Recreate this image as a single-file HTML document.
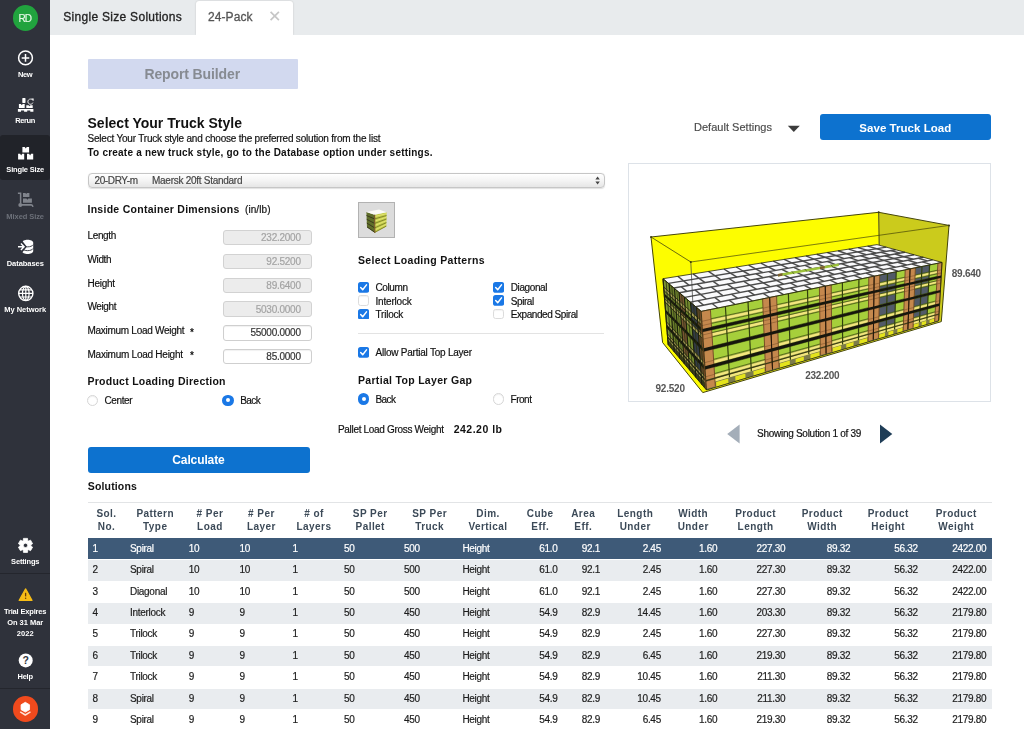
<!DOCTYPE html>
<html lang="en"><head><meta charset="utf-8"><title>Single Size Solutions - 24-Pack</title>
<style>
*{box-sizing:border-box;margin:0;padding:0}
html,body{width:1024px;height:729px;overflow:hidden;background:#fff}
body{font-family:"Liberation Sans",sans-serif;position:relative}
.a{position:absolute}
.t{position:absolute;white-space:pre}
</style></head><body>
<div class="a" style="left:0px;top:0px;width:50px;height:729px;background:#2f323b"></div>
<div class="a" style="left:0px;top:134.8px;width:50px;height:45.4px;background:#212329;border-radius:3px"></div>
<div class="a" style="left:0px;top:573px;width:50px;height:1px;background:#24262d"></div>
<div class="a" style="left:0px;top:688px;width:50px;height:1px;background:#24262d"></div>
<div class="a" style="left:12.6px;top:5.4px;width:25.4px;height:25.4px;background:#21a33e;border-radius:50%"></div>
<div class="a" style="left:12.5px;top:696px;width:25.6px;height:25.6px;background:#f04a1d;border-radius:50%"></div>
<div class="a" style="left:50px;top:0px;width:974px;height:34.6px;background:#e8ebed"></div>
<div class="a" style="left:195.8px;top:0.6px;width:97px;height:34.4px;background:#fff;border-radius:3px 3px 0 0;box-shadow:0 0 2px rgba(0,0,0,.18)"></div>
<div class="a" style="left:190px;top:34.6px;width:110px;height:4px;background:#fff"></div>
<div class="a" style="left:87.5px;top:59.4px;width:210.2px;height:29.6px;background:#d2d9ef;border-radius:1px"></div>
<div class="a" style="left:87.5px;top:172.6px;width:517px;height:15.6px;background:linear-gradient(#fff,#f4f4f4 50%,#e6e6e6);border:1px solid #c6c6c6;border-radius:4px;box-shadow:0 .5px 1px rgba(0,0,0,.12)"></div>
<div class="a" style="left:222.7px;top:230.1px;width:89.2px;height:15.3px;background:#ececec;border:1px solid #d2d2d2;border-radius:3px"></div>
<div class="a" style="left:222.7px;top:253.88px;width:89.2px;height:15.3px;background:#ececec;border:1px solid #d2d2d2;border-radius:3px"></div>
<div class="a" style="left:222.7px;top:277.65999999999997px;width:89.2px;height:15.3px;background:#ececec;border:1px solid #d2d2d2;border-radius:3px"></div>
<div class="a" style="left:222.7px;top:301.44px;width:89.2px;height:15.3px;background:#ececec;border:1px solid #d2d2d2;border-radius:3px"></div>
<div class="a" style="left:222.7px;top:325.22px;width:89.2px;height:15.3px;background:#fff;border:1px solid #cfcfcf;border-radius:3px;box-shadow:inset 0 1px 1px rgba(0,0,0,.06)"></div>
<div class="a" style="left:222.7px;top:349.0px;width:89.2px;height:15.3px;background:#fff;border:1px solid #cfcfcf;border-radius:3px;box-shadow:inset 0 1px 1px rgba(0,0,0,.06)"></div>
<div class="a" style="left:87.5px;top:446.5px;width:222.4px;height:26.6px;background:#0d72cf;border-radius:3px"></div>
<div class="a" style="left:820.3px;top:114.4px;width:171px;height:26px;background:#0d72cf;border-radius:3px"></div>
<div class="a" style="left:358px;top:202px;width:36.8px;height:36.2px;background:#dcdcdc;border:1px solid #b2b2b2"></div>
<div class="a" style="left:358px;top:333.2px;width:246px;height:1px;background:#e3e3e3"></div>
<div class="a" style="left:628.2px;top:163.2px;width:363px;height:239px;background:#fff;border:1px solid #dde2e8"></div>
<div class="a" style="left:87.5px;top:502px;width:904px;height:1px;background:#e2e4e6"></div>
<div class="a" style="left:87.5px;top:538.4px;width:904px;height:20.8px;background:#3e5a78"></div>
<div class="a" style="left:87.5px;top:560.38px;width:904px;height:20.6px;background:#e9ecef"></div>
<div class="a" style="left:87.5px;top:603.14px;width:904px;height:20.6px;background:#e9ecef"></div>
<div class="a" style="left:87.5px;top:645.9px;width:904px;height:20.6px;background:#e9ecef"></div>
<div class="a" style="left:87.5px;top:688.66px;width:904px;height:20.6px;background:#e9ecef"></div>
<svg class="a" style="left:358px;top:281.9px" width="11.2" height="10.8" viewBox="0 0 11.2 10.8"><rect width="11.2" height="10.8" rx="2.6" fill="#1a78e6"/><path d="M2.7 5.6 L4.7 7.7 L8.5 2.9" fill="none" stroke="#fff" stroke-width="1.5" stroke-linecap="round" stroke-linejoin="round"/></svg>
<svg class="a" style="left:493.2px;top:281.9px" width="11.2" height="10.8" viewBox="0 0 11.2 10.8"><rect width="11.2" height="10.8" rx="2.6" fill="#1a78e6"/><path d="M2.7 5.6 L4.7 7.7 L8.5 2.9" fill="none" stroke="#fff" stroke-width="1.5" stroke-linecap="round" stroke-linejoin="round"/></svg>
<div class="a" style="left:358px;top:295.25px;width:11.2px;height:10.8px;border-radius:2.6px;background:#fff;border:1px solid #dcdcdc;box-shadow:inset 0 1px 1px rgba(0,0,0,.05)"></div>
<svg class="a" style="left:493.2px;top:295.25px" width="11.2" height="10.8" viewBox="0 0 11.2 10.8"><rect width="11.2" height="10.8" rx="2.6" fill="#1a78e6"/><path d="M2.7 5.6 L4.7 7.7 L8.5 2.9" fill="none" stroke="#fff" stroke-width="1.5" stroke-linecap="round" stroke-linejoin="round"/></svg>
<svg class="a" style="left:358px;top:308.6px" width="11.2" height="10.8" viewBox="0 0 11.2 10.8"><rect width="11.2" height="10.8" rx="2.6" fill="#1a78e6"/><path d="M2.7 5.6 L4.7 7.7 L8.5 2.9" fill="none" stroke="#fff" stroke-width="1.5" stroke-linecap="round" stroke-linejoin="round"/></svg>
<div class="a" style="left:493.2px;top:308.6px;width:11.2px;height:10.8px;border-radius:2.6px;background:#fff;border:1px solid #dcdcdc;box-shadow:inset 0 1px 1px rgba(0,0,0,.05)"></div>
<svg class="a" style="left:358px;top:347.2px" width="11.2" height="10.8" viewBox="0 0 11.2 10.8"><rect width="11.2" height="10.8" rx="2.6" fill="#1a78e6"/><path d="M2.7 5.6 L4.7 7.7 L8.5 2.9" fill="none" stroke="#fff" stroke-width="1.5" stroke-linecap="round" stroke-linejoin="round"/></svg>
<div class="a" style="left:86.8px;top:394.6px;width:11.4px;height:11.4px;border-radius:50%;background:#fff;border:1px solid #d6d6d6;box-shadow:inset 0 1px 1px rgba(0,0,0,.06)"></div>
<div class="a" style="left:222.3px;top:394.6px;width:11.4px;height:11.4px;border-radius:50%;background:#1a78e6"><div class="a" style="left:3.7px;top:3.7px;width:4px;height:4px;border-radius:50%;background:#fff"></div></div>
<div class="a" style="left:358px;top:393.3px;width:11.4px;height:11.4px;border-radius:50%;background:#1a78e6"><div class="a" style="left:3.7px;top:3.7px;width:4px;height:4px;border-radius:50%;background:#fff"></div></div>
<div class="a" style="left:492.5px;top:393.3px;width:11.4px;height:11.4px;border-radius:50%;background:#fff;border:1px solid #d6d6d6;box-shadow:inset 0 1px 1px rgba(0,0,0,.06)"></div>
<svg class="a" style="left:0;top:0" width="50" height="729" viewBox="0 0 50 729"><circle cx="25.5" cy="57.9" r="6.9" fill="none" stroke="#fff" stroke-width="1.5"/><path d="M25.5 54.1V61.7M21.7 57.9H29.3" stroke="#fff" stroke-width="1.5" fill="none"/><rect x="22.3" y="98.1" width="3.2" height="4.8" rx="0.6" fill="#fff"/><path d="M18.9 103.9H20.9L21.8 105.3L22.7 103.9H24.7V108.1H18.9Z" fill="#fff"/><path d="M26.3 105.2H28.6L29.5 106.2L30.4 105.2H32.7V108.1H26.3Z" fill="#fff"/><path d="M17.9 109H33.4V111.7H30.3V110.6H27.2V111.7H24.1V110.6H21V111.7H17.9Z" fill="#fff"/><path d="M32.6 100.2A2.6 2.6 0 1 0 32.9 102.6" fill="none" stroke="#e8e8e8" stroke-width="1.0"/><path d="M31.2 98.6H33.6V101Z" fill="#fff"/><path d="M22.4 146.9H24.75L25.75 148.50L26.75 146.9H29.099999999999998V152.6H22.4Z" fill="#fff"/><path d="M18.1 153.8H20.15L21.15 155.40L22.15 153.8H24.200000000000003V159.4H18.1Z" fill="#fff"/><path d="M27.0 153.8H29.10L30.10 155.40L31.10 153.8H33.2V159.4H27.0Z" fill="#fff"/><path d="M17.9 193.2H20.6V203.6" fill="none" stroke="#80848c" stroke-width="1.5"/><circle cx="20.3" cy="205" r="2.0" fill="#80848c"/><path d="M21.5 204.9H31.2Q32.6 204.9 32.9 206.8" fill="none" stroke="#80848c" stroke-width="1.6"/><path d="M23 192.9H25.4L26.2 194.1L27 192.9H29.4V196.9H23Z" fill="#80848c"/><path d="M23 198.5H26.4L27.4 199.8L28.4 198.5H31.9V202.8H23Z" fill="#80848c"/><path d="M22 242.8C22 238.8 33.2 238.8 33.2 242.8V250.9C33.2 254.9 22 254.9 22 250.9Z" fill="#fff"/><path d="M22 244.6C23.5 247.6 31.7 247.6 33.2 244.6" fill="none" stroke="#2f323b" stroke-width="0.9"/><path d="M22 248.4C23.5 251.4 31.7 251.4 33.2 248.4" fill="none" stroke="#2f323b" stroke-width="0.9"/><path d="M21.2 241.6L25.2 246.7L21.2 251.8" fill="none" stroke="#2f323b" stroke-width="2.6"/><path d="M18 246.7H23.6M20.9 243.4L24.1 246.7L20.9 250" fill="none" stroke="#fff" stroke-width="1.4"/><circle cx="25.8" cy="293.4" r="7.1" fill="none" stroke="#fff" stroke-width="1.4"/><ellipse cx="25.8" cy="293.4" rx="3.3" ry="7.1" fill="none" stroke="#fff" stroke-width="1.2"/><path d="M25.8 286.29999999999995V300.5M18.700000000000003 293.4H32.9M19.6 289.79999999999995H32.0M19.6 297.0H32.0" stroke="#fff" stroke-width="1.2" fill="none"/><path d="M23.46 538.39L27.54 538.39L27.70 540.47L28.67 541.03L30.55 540.13L32.59 543.66L30.87 544.84L30.87 545.96L32.59 547.14L30.55 550.67L28.67 549.77L27.70 550.33L27.54 552.41L23.46 552.41L23.30 550.33L22.33 549.77L20.45 550.67L18.41 547.14L20.13 545.96L20.13 544.84L18.41 543.66L20.45 540.13L22.33 541.03L23.30 540.47ZM27.7 545.4A2.2 2.2 0 1 0 23.3 545.4A2.2 2.2 0 1 0 27.7 545.4Z" fill="#fff" fill-rule="evenodd" stroke="#fff" stroke-width="0.8" stroke-linejoin="round"/><path d="M25.6 588.9L32 600.4H19.2Z" fill="#f7bd16" stroke="#f7bd16" stroke-width="1.2" stroke-linejoin="round"/><path d="M25.6 592.8V596.4" stroke="#6b3d08" stroke-width="1.3"/><circle cx="25.6" cy="598.3" r="0.75" fill="#6b3d08"/><circle cx="25.7" cy="660.4" r="7" fill="#fff"/><text x="25.7" y="664.2" text-anchor="middle" font-family="Liberation Sans,sans-serif" font-weight="bold" font-size="10.5" fill="#33363e">?</text><polygon points="25.30,702.30 29.54,704.75 29.54,709.65 25.30,712.10 21.06,709.65 21.06,704.75" fill="#fff" stroke="#fff" stroke-width="0.8" stroke-linejoin="round"/><path d="M20.6 712.2L25.3 715L30 712.2" fill="none" stroke="#ffe3d6" stroke-width="1.5" stroke-linecap="round" stroke-linejoin="round"/></svg>
<svg class="a" style="left:0;top:0" width="1024" height="460" viewBox="0 0 1024 460"><defs><filter id="b2"><feGaussianBlur stdDeviation="0.35"/></filter></defs><path d="M270.6 11.8L278.9 20.1M278.9 11.8L270.6 20.1" stroke="#c6c6c6" stroke-width="1.7" fill="none"/><path d="M787.8 125.7H799.8L793.8 132Z" fill="#3c3c3c"/><path d="M595.4 179.4L597.6 176.6L599.8 179.4ZM595.4 181.6L597.6 184.4L599.8 181.6Z" fill="#444"/><path d="M739.6 424.4V443.6L727.2 434Z" fill="#a4aeb9"/><path d="M880 424.4V443.6L892.3 434Z" fill="#1f3d57"/><g filter="url(#b2)"><polygon points="366.4,212.0 374.5,214.8 374.8,232.7 367.0,227.2" fill="#5f6e2c"/><polygon points="374.5,214.8 386.6,212.2 386.3,226.4 374.8,232.7" fill="#c3d048"/><polygon points="366.4,212.0 379.0,209.4 386.6,212.2 374.5,214.8" fill="#fbfbf6"/><line x1="374.6" y1="218.9" x2="386.5" y2="215.5" stroke="#7d7d2a" stroke-width="0.9"/><line x1="366.5" y1="215.5" x2="374.6" y2="218.9" stroke="#3a3a1c" stroke-width="1.0"/><line x1="374.6" y1="223.4" x2="386.5" y2="219.0" stroke="#7d7d2a" stroke-width="0.9"/><line x1="366.7" y1="219.3" x2="374.6" y2="223.4" stroke="#3a3a1c" stroke-width="1.0"/><line x1="374.7" y1="227.9" x2="386.4" y2="222.6" stroke="#7d7d2a" stroke-width="0.9"/><line x1="366.8" y1="223.1" x2="374.7" y2="227.9" stroke="#3a3a1c" stroke-width="1.0"/><line x1="374.8" y1="232.3" x2="386.3" y2="226.1" stroke="#7d7d2a" stroke-width="0.9"/><line x1="367.0" y1="226.9" x2="374.8" y2="232.3" stroke="#3a3a1c" stroke-width="1.0"/><line x1="374.5" y1="216.6" x2="386.6" y2="213.6" stroke="#e6e27a" stroke-width="0.9"/><line x1="374.6" y1="221.1" x2="386.5" y2="217.2" stroke="#e6e27a" stroke-width="0.9"/><line x1="374.7" y1="225.5" x2="386.4" y2="220.7" stroke="#e6e27a" stroke-width="0.9"/><line x1="374.8" y1="230.0" x2="386.3" y2="224.3" stroke="#e6e27a" stroke-width="0.9"/><line x1="374.6" y1="214.8" x2="374.8" y2="232.7" stroke="#7a5a2a" stroke-width="1.2"/></g></svg>
<svg class="a" style="left:629px;top:164px" width="362" height="237" viewBox="629 164 362 237"><defs><filter id="bl" x="-5%" y="-5%" width="110%" height="110%"><feGaussianBlur stdDeviation="0.45"/></filter></defs><g filter="url(#bl)"><polygon points="651.0,237.0 878.7,212.3 880.0,303.0 662.6,342.5" fill="#fdfd05"/><polygon points="878.7,212.3 949.0,225.4 941.3,321.6 880.0,303.0" fill="#cbcb1a"/><polygon points="662.6,342.5 702.8,392.6 941.3,321.6 880.0,303.0" fill="#f6f608"/><polygon points="651.0,237.0 690.8,262.0 702.8,392.6 662.6,342.5" fill="#fdfd05"/><line x1="651.0" y1="237.0" x2="878.7" y2="212.3" stroke="#45450a" stroke-width="1.0"/><line x1="878.7" y1="212.3" x2="949.0" y2="225.4" stroke="#45450a" stroke-width="1.0"/><line x1="651.0" y1="237.0" x2="662.6" y2="342.5" stroke="#45450a" stroke-width="1.0"/><line x1="662.6" y1="342.5" x2="702.8" y2="392.6" stroke="#45450a" stroke-width="1.0"/><line x1="878.7" y1="212.3" x2="880.0" y2="303.0" stroke="#45450a" stroke-width="1.0"/><line x1="949.0" y1="225.4" x2="941.3" y2="321.6" stroke="#45450a" stroke-width="1.0"/><line x1="702.8" y1="392.6" x2="941.3" y2="321.6" stroke="#45450a" stroke-width="1.0"/><polygon points="663.0,278.7 877.0,244.6 942.0,262.4 701.2,311.4" fill="#fafafc"/><line x1="668.5" y1="283.4" x2="886.3" y2="247.1" stroke="#4c4c4c" stroke-width="1.45"/><line x1="673.9" y1="288.0" x2="895.6" y2="249.7" stroke="#4c4c4c" stroke-width="1.45"/><line x1="679.4" y1="292.7" x2="904.9" y2="252.2" stroke="#4c4c4c" stroke-width="1.45"/><line x1="684.8" y1="297.4" x2="914.1" y2="254.8" stroke="#4c4c4c" stroke-width="1.45"/><line x1="690.3" y1="302.1" x2="923.4" y2="257.3" stroke="#4c4c4c" stroke-width="1.45"/><line x1="695.7" y1="306.7" x2="932.7" y2="259.9" stroke="#4c4c4c" stroke-width="1.45"/><line x1="677.8" y1="276.3" x2="683.5" y2="280.9" stroke="#4c4c4c" stroke-width="1.45"/><line x1="693.1" y1="273.9" x2="699.1" y2="278.3" stroke="#4c4c4c" stroke-width="1.45"/><line x1="708.5" y1="271.4" x2="714.8" y2="275.7" stroke="#4c4c4c" stroke-width="1.45"/><line x1="683.5" y1="280.9" x2="689.2" y2="285.4" stroke="#4c4c4c" stroke-width="1.45"/><line x1="699.1" y1="278.3" x2="705.1" y2="282.6" stroke="#4c4c4c" stroke-width="1.45"/><line x1="714.8" y1="275.7" x2="721.0" y2="279.9" stroke="#4c4c4c" stroke-width="1.45"/><line x1="681.2" y1="286.8" x2="686.8" y2="291.4" stroke="#4c4c4c" stroke-width="1.45"/><line x1="697.2" y1="284.0" x2="703.0" y2="288.5" stroke="#4c4c4c" stroke-width="1.45"/><line x1="713.1" y1="281.3" x2="719.2" y2="285.6" stroke="#4c4c4c" stroke-width="1.45"/><line x1="729.0" y1="278.5" x2="735.4" y2="282.7" stroke="#4c4c4c" stroke-width="1.45"/><line x1="694.9" y1="289.9" x2="700.6" y2="294.4" stroke="#4c4c4c" stroke-width="1.45"/><line x1="711.1" y1="287.0" x2="717.1" y2="291.4" stroke="#4c4c4c" stroke-width="1.45"/><line x1="727.3" y1="284.1" x2="733.6" y2="288.3" stroke="#4c4c4c" stroke-width="1.45"/><line x1="700.6" y1="294.4" x2="706.4" y2="299.0" stroke="#4c4c4c" stroke-width="1.45"/><line x1="717.1" y1="291.4" x2="723.1" y2="295.8" stroke="#4c4c4c" stroke-width="1.45"/><line x1="733.6" y1="288.3" x2="739.9" y2="292.5" stroke="#4c4c4c" stroke-width="1.45"/><line x1="698.0" y1="300.6" x2="703.6" y2="305.2" stroke="#4c4c4c" stroke-width="1.45"/><line x1="714.7" y1="297.4" x2="720.6" y2="301.8" stroke="#4c4c4c" stroke-width="1.45"/><line x1="731.5" y1="294.2" x2="737.6" y2="298.4" stroke="#4c4c4c" stroke-width="1.45"/><line x1="748.2" y1="290.9" x2="754.6" y2="295.1" stroke="#4c4c4c" stroke-width="1.45"/><line x1="712.1" y1="303.5" x2="717.8" y2="308.0" stroke="#4c4c4c" stroke-width="1.45"/><line x1="729.1" y1="300.1" x2="735.1" y2="304.5" stroke="#4c4c4c" stroke-width="1.45"/><line x1="746.1" y1="296.8" x2="752.4" y2="301.0" stroke="#4c4c4c" stroke-width="1.45"/><line x1="723.9" y1="269.0" x2="730.4" y2="273.1" stroke="#4c4c4c" stroke-width="1.45"/><line x1="736.2" y1="267.0" x2="743.0" y2="271.0" stroke="#4c4c4c" stroke-width="1.45"/><line x1="748.6" y1="265.1" x2="755.6" y2="268.9" stroke="#4c4c4c" stroke-width="1.45"/><line x1="760.9" y1="263.1" x2="768.1" y2="266.8" stroke="#4c4c4c" stroke-width="1.45"/><line x1="730.4" y1="273.1" x2="737.0" y2="277.1" stroke="#4c4c4c" stroke-width="1.45"/><line x1="743.0" y1="271.0" x2="749.8" y2="274.9" stroke="#4c4c4c" stroke-width="1.45"/><line x1="755.6" y1="268.9" x2="762.6" y2="272.7" stroke="#4c4c4c" stroke-width="1.45"/><line x1="768.1" y1="266.8" x2="775.4" y2="270.5" stroke="#4c4c4c" stroke-width="1.45"/><line x1="743.4" y1="276.0" x2="750.0" y2="280.0" stroke="#4c4c4c" stroke-width="1.45"/><line x1="756.2" y1="273.8" x2="763.0" y2="277.7" stroke="#4c4c4c" stroke-width="1.45"/><line x1="769.0" y1="271.6" x2="776.1" y2="275.4" stroke="#4c4c4c" stroke-width="1.45"/><line x1="781.8" y1="269.4" x2="789.1" y2="273.0" stroke="#4c4c4c" stroke-width="1.45"/><line x1="743.5" y1="281.2" x2="750.1" y2="285.3" stroke="#4c4c4c" stroke-width="1.45"/><line x1="756.5" y1="278.9" x2="763.3" y2="282.8" stroke="#4c4c4c" stroke-width="1.45"/><line x1="769.5" y1="276.5" x2="776.5" y2="280.3" stroke="#4c4c4c" stroke-width="1.45"/><line x1="782.6" y1="274.2" x2="789.8" y2="277.9" stroke="#4c4c4c" stroke-width="1.45"/><line x1="750.1" y1="285.3" x2="756.6" y2="289.3" stroke="#4c4c4c" stroke-width="1.45"/><line x1="763.3" y1="282.8" x2="770.1" y2="286.7" stroke="#4c4c4c" stroke-width="1.45"/><line x1="776.5" y1="280.3" x2="783.5" y2="284.2" stroke="#4c4c4c" stroke-width="1.45"/><line x1="789.8" y1="277.9" x2="797.0" y2="281.6" stroke="#4c4c4c" stroke-width="1.45"/><line x1="763.3" y1="288.0" x2="770.0" y2="292.0" stroke="#4c4c4c" stroke-width="1.45"/><line x1="776.8" y1="285.5" x2="783.7" y2="289.3" stroke="#4c4c4c" stroke-width="1.45"/><line x1="790.3" y1="282.9" x2="797.4" y2="286.6" stroke="#4c4c4c" stroke-width="1.45"/><line x1="803.7" y1="280.3" x2="811.0" y2="283.9" stroke="#4c4c4c" stroke-width="1.45"/><line x1="763.2" y1="293.4" x2="769.7" y2="297.5" stroke="#4c4c4c" stroke-width="1.45"/><line x1="776.8" y1="290.7" x2="783.6" y2="294.6" stroke="#4c4c4c" stroke-width="1.45"/><line x1="790.5" y1="288.0" x2="797.5" y2="291.8" stroke="#4c4c4c" stroke-width="1.45"/><line x1="804.2" y1="285.3" x2="811.4" y2="289.0" stroke="#4c4c4c" stroke-width="1.45"/><line x1="773.3" y1="261.1" x2="780.7" y2="264.7" stroke="#4c4c4c" stroke-width="1.45"/><line x1="784.2" y1="259.4" x2="791.8" y2="262.9" stroke="#4c4c4c" stroke-width="1.45"/><line x1="795.0" y1="257.7" x2="802.8" y2="261.0" stroke="#4c4c4c" stroke-width="1.45"/><line x1="805.9" y1="255.9" x2="813.9" y2="259.2" stroke="#4c4c4c" stroke-width="1.45"/><line x1="780.7" y1="264.7" x2="788.1" y2="268.3" stroke="#4c4c4c" stroke-width="1.45"/><line x1="791.8" y1="262.9" x2="799.4" y2="266.3" stroke="#4c4c4c" stroke-width="1.45"/><line x1="802.8" y1="261.0" x2="810.7" y2="264.4" stroke="#4c4c4c" stroke-width="1.45"/><line x1="813.9" y1="259.2" x2="821.9" y2="262.4" stroke="#4c4c4c" stroke-width="1.45"/><line x1="793.8" y1="267.3" x2="801.3" y2="270.8" stroke="#4c4c4c" stroke-width="1.45"/><line x1="805.0" y1="265.4" x2="812.8" y2="268.8" stroke="#4c4c4c" stroke-width="1.45"/><line x1="816.3" y1="263.4" x2="824.2" y2="266.7" stroke="#4c4c4c" stroke-width="1.45"/><line x1="827.5" y1="261.5" x2="835.6" y2="264.7" stroke="#4c4c4c" stroke-width="1.45"/><line x1="795.6" y1="271.8" x2="803.0" y2="275.4" stroke="#4c4c4c" stroke-width="1.45"/><line x1="807.0" y1="269.8" x2="814.7" y2="273.3" stroke="#4c4c4c" stroke-width="1.45"/><line x1="818.5" y1="267.7" x2="826.3" y2="271.1" stroke="#4c4c4c" stroke-width="1.45"/><line x1="829.9" y1="265.7" x2="837.9" y2="268.9" stroke="#4c4c4c" stroke-width="1.45"/><line x1="803.0" y1="275.4" x2="810.4" y2="279.0" stroke="#4c4c4c" stroke-width="1.45"/><line x1="814.7" y1="273.3" x2="822.3" y2="276.7" stroke="#4c4c4c" stroke-width="1.45"/><line x1="826.3" y1="271.1" x2="834.1" y2="274.5" stroke="#4c4c4c" stroke-width="1.45"/><line x1="837.9" y1="268.9" x2="845.9" y2="272.2" stroke="#4c4c4c" stroke-width="1.45"/><line x1="816.4" y1="277.9" x2="823.9" y2="281.4" stroke="#4c4c4c" stroke-width="1.45"/><line x1="828.2" y1="275.6" x2="835.9" y2="279.0" stroke="#4c4c4c" stroke-width="1.45"/><line x1="840.0" y1="273.3" x2="847.9" y2="276.6" stroke="#4c4c4c" stroke-width="1.45"/><line x1="851.9" y1="271.0" x2="860.0" y2="274.2" stroke="#4c4c4c" stroke-width="1.45"/><line x1="817.9" y1="282.6" x2="825.3" y2="286.1" stroke="#4c4c4c" stroke-width="1.45"/><line x1="829.9" y1="280.2" x2="837.5" y2="283.7" stroke="#4c4c4c" stroke-width="1.45"/><line x1="841.9" y1="277.8" x2="849.8" y2="281.2" stroke="#4c4c4c" stroke-width="1.45"/><line x1="854.0" y1="275.4" x2="862.0" y2="278.7" stroke="#4c4c4c" stroke-width="1.45"/><line x1="816.7" y1="254.2" x2="825.0" y2="257.3" stroke="#4c4c4c" stroke-width="1.45"/><line x1="827.4" y1="252.5" x2="835.8" y2="255.5" stroke="#4c4c4c" stroke-width="1.45"/><line x1="838.0" y1="250.8" x2="846.6" y2="253.7" stroke="#4c4c4c" stroke-width="1.45"/><line x1="825.0" y1="257.3" x2="833.2" y2="260.5" stroke="#4c4c4c" stroke-width="1.45"/><line x1="835.8" y1="255.5" x2="844.2" y2="258.6" stroke="#4c4c4c" stroke-width="1.45"/><line x1="846.6" y1="253.7" x2="855.2" y2="256.7" stroke="#4c4c4c" stroke-width="1.45"/><line x1="838.7" y1="259.5" x2="847.0" y2="262.6" stroke="#4c4c4c" stroke-width="1.45"/><line x1="849.7" y1="257.6" x2="858.2" y2="260.6" stroke="#4c4c4c" stroke-width="1.45"/><line x1="860.7" y1="255.7" x2="869.4" y2="258.6" stroke="#4c4c4c" stroke-width="1.45"/><line x1="841.4" y1="263.6" x2="849.6" y2="266.8" stroke="#4c4c4c" stroke-width="1.45"/><line x1="852.6" y1="261.6" x2="861.0" y2="264.7" stroke="#4c4c4c" stroke-width="1.45"/><line x1="863.8" y1="259.6" x2="872.4" y2="262.5" stroke="#4c4c4c" stroke-width="1.45"/><line x1="849.6" y1="266.8" x2="857.8" y2="269.9" stroke="#4c4c4c" stroke-width="1.45"/><line x1="861.0" y1="264.7" x2="869.4" y2="267.7" stroke="#4c4c4c" stroke-width="1.45"/><line x1="872.4" y1="262.5" x2="881.0" y2="265.5" stroke="#4c4c4c" stroke-width="1.45"/><line x1="863.6" y1="268.8" x2="871.9" y2="271.9" stroke="#4c4c4c" stroke-width="1.45"/><line x1="875.2" y1="266.6" x2="883.7" y2="269.6" stroke="#4c4c4c" stroke-width="1.45"/><line x1="886.7" y1="264.4" x2="895.4" y2="267.2" stroke="#4c4c4c" stroke-width="1.45"/><line x1="866.0" y1="273.1" x2="874.2" y2="276.2" stroke="#4c4c4c" stroke-width="1.45"/><line x1="877.8" y1="270.7" x2="886.2" y2="273.8" stroke="#4c4c4c" stroke-width="1.45"/><line x1="889.5" y1="268.4" x2="898.1" y2="271.3" stroke="#4c4c4c" stroke-width="1.45"/><line x1="848.7" y1="249.1" x2="857.4" y2="251.9" stroke="#4c4c4c" stroke-width="1.45"/><line x1="858.1" y1="247.6" x2="867.0" y2="250.3" stroke="#4c4c4c" stroke-width="1.45"/><line x1="867.6" y1="246.1" x2="876.7" y2="248.7" stroke="#4c4c4c" stroke-width="1.45"/><line x1="857.4" y1="251.9" x2="866.2" y2="254.8" stroke="#4c4c4c" stroke-width="1.45"/><line x1="867.0" y1="250.3" x2="876.0" y2="253.1" stroke="#4c4c4c" stroke-width="1.45"/><line x1="876.7" y1="248.7" x2="885.8" y2="251.4" stroke="#4c4c4c" stroke-width="1.45"/><line x1="871.1" y1="253.9" x2="880.0" y2="256.7" stroke="#4c4c4c" stroke-width="1.45"/><line x1="880.9" y1="252.2" x2="889.9" y2="254.9" stroke="#4c4c4c" stroke-width="1.45"/><line x1="890.7" y1="250.5" x2="899.9" y2="253.1" stroke="#4c4c4c" stroke-width="1.45"/><line x1="875.0" y1="257.6" x2="883.8" y2="260.4" stroke="#4c4c4c" stroke-width="1.45"/><line x1="884.9" y1="255.8" x2="893.9" y2="258.5" stroke="#4c4c4c" stroke-width="1.45"/><line x1="894.9" y1="254.0" x2="904.0" y2="256.7" stroke="#4c4c4c" stroke-width="1.45"/><line x1="883.8" y1="260.4" x2="892.5" y2="263.2" stroke="#4c4c4c" stroke-width="1.45"/><line x1="893.9" y1="258.5" x2="902.8" y2="261.3" stroke="#4c4c4c" stroke-width="1.45"/><line x1="904.0" y1="256.7" x2="913.1" y2="259.3" stroke="#4c4c4c" stroke-width="1.45"/><line x1="897.7" y1="262.3" x2="906.6" y2="265.0" stroke="#4c4c4c" stroke-width="1.45"/><line x1="908.0" y1="260.3" x2="917.0" y2="263.0" stroke="#4c4c4c" stroke-width="1.45"/><line x1="918.3" y1="258.3" x2="927.5" y2="260.9" stroke="#4c4c4c" stroke-width="1.45"/><line x1="901.3" y1="266.1" x2="910.1" y2="268.9" stroke="#4c4c4c" stroke-width="1.45"/><line x1="911.8" y1="264.0" x2="920.7" y2="266.7" stroke="#4c4c4c" stroke-width="1.45"/><line x1="922.3" y1="261.9" x2="931.4" y2="264.6" stroke="#4c4c4c" stroke-width="1.45"/><polygon points="778.0,274.0 838.8,263.5 838.8,266.1 778.0,276.6" fill="#9dc23a"/><polygon points="778.0,274.0 782.5,273.2 782.5,275.8 778.0,276.6" fill="#7a5a2e"/><polygon points="820.0,266.7 824.7,265.9 824.7,268.5 820.0,269.3" fill="#7a5a2e"/><line x1="791.8" y1="271.3" x2="794.2" y2="274.1" stroke="#4a5a1a" stroke-width="0.8"/><line x1="804.8" y1="269.0" x2="807.2" y2="271.8" stroke="#4a5a1a" stroke-width="0.8"/><line x1="830.8" y1="264.6" x2="833.2" y2="267.4" stroke="#4a5a1a" stroke-width="0.8"/><polygon points="663.0,278.7 701.2,311.4 706.5,390.0 668.2,344.8" fill="#6f8430"/><polygon points="663.0,278.7 669.1,283.9 674.3,352.0 668.2,344.8" fill="#7f9634"/><polygon points="669.1,283.9 674.5,288.5 679.7,358.4 674.3,352.0" fill="#6a7d2b"/><polygon points="674.5,288.5 679.0,292.4 684.3,363.8 679.7,358.4" fill="#7f9634"/><polygon points="679.0,292.4 684.4,297.0 689.6,370.1 684.3,363.8" fill="#785433"/><polygon points="684.4,297.0 690.5,302.2 695.8,377.3 689.6,370.1" fill="#748c2f"/><polygon points="690.5,302.2 696.6,307.5 701.9,384.6 695.8,377.3" fill="#333a46"/><polygon points="696.6,307.5 701.2,311.4 706.5,390.0 701.9,384.6" fill="#6e4c2c"/><polygon points="663.7,287.0 701.9,321.3 702.1,324.8 663.9,290.0" fill="#a89f56"/><polygon points="664.1,293.2 702.4,328.7 702.6,332.3 664.4,296.3" fill="#17170f"/><polygon points="664.6,298.5 702.8,334.9 703.0,338.5 664.8,301.5" fill="#a89f56"/><polygon points="665.4,309.5 703.7,348.0 703.9,351.8 665.7,312.7" fill="#17170f"/><polygon points="666.4,321.8 704.7,362.6 704.9,366.2 666.6,324.8" fill="#a89f56"/><polygon points="666.6,324.5 704.9,365.9 705.1,369.9 666.9,327.9" fill="#17170f"/><polygon points="667.3,333.7 705.6,376.8 705.8,380.1 667.5,336.5" fill="#a89f56"/><polygon points="667.5,336.2 705.8,379.8 705.9,381.7 667.6,337.8" fill="#17170f"/><polygon points="667.6,337.5 705.9,381.4 706.1,384.1 667.8,339.8" fill="#a89f56"/><polygon points="667.8,339.8 706.1,384.1 706.5,390.0 668.2,344.8" fill="#3c3c20"/><line x1="663.0" y1="278.7" x2="668.2" y2="344.8" stroke="#1c200c" stroke-width="1.2"/><line x1="666.1" y1="281.3" x2="671.3" y2="348.4" stroke="#2c3312" stroke-width="0.8"/><line x1="669.1" y1="283.9" x2="674.3" y2="352.0" stroke="#1c200c" stroke-width="1.2"/><line x1="671.8" y1="286.2" x2="677.0" y2="355.2" stroke="#2c3312" stroke-width="0.8"/><line x1="674.5" y1="288.5" x2="679.7" y2="358.4" stroke="#1c200c" stroke-width="1.2"/><line x1="676.8" y1="290.5" x2="682.0" y2="361.1" stroke="#2c3312" stroke-width="0.8"/><line x1="679.0" y1="292.4" x2="684.3" y2="363.8" stroke="#1c200c" stroke-width="1.2"/><line x1="681.7" y1="294.7" x2="687.0" y2="366.9" stroke="#2c3312" stroke-width="0.8"/><line x1="684.4" y1="297.0" x2="689.6" y2="370.1" stroke="#1c200c" stroke-width="1.2"/><line x1="687.4" y1="299.6" x2="692.7" y2="373.7" stroke="#2c3312" stroke-width="0.8"/><line x1="690.5" y1="302.2" x2="695.8" y2="377.3" stroke="#1c200c" stroke-width="1.2"/><line x1="693.6" y1="304.9" x2="698.8" y2="381.0" stroke="#2c3312" stroke-width="0.8"/><line x1="696.6" y1="307.5" x2="701.9" y2="384.6" stroke="#1c200c" stroke-width="1.2"/><line x1="698.9" y1="309.4" x2="704.2" y2="387.3" stroke="#2c3312" stroke-width="0.8"/><line x1="663.0" y1="278.7" x2="701.2" y2="311.4" stroke="#22260c" stroke-width="0.8"/><line x1="663.7" y1="287.0" x2="701.9" y2="321.3" stroke="#22260c" stroke-width="0.8"/><line x1="663.9" y1="290.6" x2="702.2" y2="325.5" stroke="#22260c" stroke-width="0.8"/><line x1="664.4" y1="296.0" x2="702.6" y2="332.0" stroke="#22260c" stroke-width="0.8"/><line x1="664.6" y1="298.5" x2="702.8" y2="334.9" stroke="#22260c" stroke-width="0.8"/><line x1="664.8" y1="302.0" x2="703.1" y2="339.1" stroke="#22260c" stroke-width="0.8"/><line x1="665.7" y1="312.4" x2="703.9" y2="351.5" stroke="#22260c" stroke-width="0.8"/><line x1="666.4" y1="321.8" x2="704.7" y2="362.6" stroke="#22260c" stroke-width="0.8"/><line x1="666.8" y1="327.6" x2="705.1" y2="369.6" stroke="#22260c" stroke-width="0.8"/><line x1="667.3" y1="333.7" x2="705.6" y2="376.8" stroke="#22260c" stroke-width="0.8"/><line x1="667.6" y1="337.5" x2="705.9" y2="381.4" stroke="#22260c" stroke-width="0.8"/><polygon points="701.2,311.4 942.0,262.4 938.6,321.0 706.5,390.0" fill="#a6cf3a"/><polygon points="879.7,275.1 896.2,271.7 896.0,279.1 879.6,282.6" fill="#515a68"/><polygon points="879.5,286.6 895.9,283.0 895.8,285.7 879.4,289.4" fill="#515a68"/><polygon points="879.4,291.8 895.7,288.1 895.7,290.3 879.4,294.0" fill="#515a68"/><polygon points="879.3,297.6 895.6,293.7 895.4,301.0 879.2,305.1" fill="#515a68"/><polygon points="879.1,307.6 895.3,303.5 895.1,311.7 879.0,315.9" fill="#515a68"/><polygon points="878.8,322.3 894.9,317.9 894.8,323.0 878.8,327.5" fill="#515a68"/><polygon points="915.4,267.8 929.6,264.9 929.3,272.0 915.1,275.0" fill="#515a68"/><polygon points="915.0,278.8 929.1,275.7 928.9,278.3 914.9,281.4" fill="#515a68"/><polygon points="914.8,283.7 928.8,280.5 928.7,282.6 914.7,285.9" fill="#515a68"/><polygon points="914.5,289.3 928.6,286.0 928.2,292.9 914.3,296.4" fill="#515a68"/><polygon points="914.2,298.8 928.1,295.3 927.7,303.1 913.8,306.7" fill="#515a68"/><polygon points="913.6,312.8 927.4,309.0 927.2,313.9 913.4,317.8" fill="#515a68"/><polygon points="701.9,321.3 941.6,269.8 941.4,272.4 702.1,324.8" fill="#f3e77e" stroke="#5a5a20" stroke-width="0.35"/><polygon points="702.8,334.9 941.0,279.9 940.8,282.6 703.0,338.5" fill="#f3e77e" stroke="#5a5a20" stroke-width="0.35"/><polygon points="704.7,362.6 939.8,300.6 939.6,303.2 704.9,366.2" fill="#f3e77e" stroke="#5a5a20" stroke-width="0.35"/><polygon points="705.6,376.8 939.2,311.2 939.0,313.6 705.8,380.1" fill="#f3e77e" stroke="#5a5a20" stroke-width="0.35"/><polygon points="705.9,381.4 939.0,314.6 938.9,316.6 706.1,384.1" fill="#f3e77e" stroke="#5a5a20" stroke-width="0.35"/><polygon points="706.1,384.1 938.9,316.6 938.6,321.0 706.5,390.0" fill="#7d7b48"/><line x1="701.2" y1="311.4" x2="942.0" y2="262.4" stroke="#3a4a12" stroke-width="0.7"/><line x1="701.8" y1="320.7" x2="941.6" y2="269.3" stroke="#3a4a12" stroke-width="0.7"/><line x1="702.2" y1="325.5" x2="941.4" y2="272.9" stroke="#3a4a12" stroke-width="0.7"/><line x1="702.4" y1="329.0" x2="941.2" y2="275.5" stroke="#3a4a12" stroke-width="0.7"/><line x1="702.6" y1="332.0" x2="941.1" y2="277.8" stroke="#3a4a12" stroke-width="0.7"/><line x1="702.8" y1="334.7" x2="941.0" y2="279.8" stroke="#3a4a12" stroke-width="0.7"/><line x1="703.1" y1="339.1" x2="940.8" y2="283.1" stroke="#3a4a12" stroke-width="0.7"/><line x1="703.7" y1="348.3" x2="940.4" y2="289.9" stroke="#3a4a12" stroke-width="0.7"/><line x1="703.9" y1="351.5" x2="940.3" y2="292.3" stroke="#3a4a12" stroke-width="0.7"/><line x1="704.6" y1="361.7" x2="939.8" y2="299.9" stroke="#3a4a12" stroke-width="0.7"/><line x1="705.1" y1="369.6" x2="939.5" y2="305.8" stroke="#3a4a12" stroke-width="0.7"/><line x1="705.6" y1="376.0" x2="939.2" y2="310.6" stroke="#3a4a12" stroke-width="0.7"/><polygon points="716.1,382.0 728.2,378.5 728.4,383.1 716.3,386.7" fill="#e4e41c"/><polygon points="735.2,376.4 745.3,373.5 745.5,378.0 735.5,381.0" fill="#e4e41c"/><polygon points="753.4,371.2 764.5,367.9 764.7,372.3 753.6,375.6" fill="#e4e41c"/><polygon points="714.8,378.8 765.3,364.3 765.5,366.9 715.0,381.5" fill="#f3e77e"/><polygon points="779.8,363.5 789.8,360.6 789.9,364.8 780.0,367.8" fill="#e4e41c"/><polygon points="795.6,358.9 803.8,356.5 803.9,360.7 795.7,363.1" fill="#e4e41c"/><polygon points="810.4,354.5 819.5,351.9 819.6,356.0 810.5,358.7" fill="#e4e41c"/><polygon points="778.9,360.4 820.3,348.6 820.4,351.0 779.0,363.0" fill="#f3e77e"/><polygon points="832.5,348.1 841.2,345.6 841.2,349.6 832.5,352.2" fill="#e4e41c"/><polygon points="846.3,344.1 853.6,342.0 853.5,346.0 846.3,348.1" fill="#e4e41c"/><polygon points="859.4,340.3 867.4,338.0 867.3,341.9 859.3,344.2" fill="#e4e41c"/><polygon points="831.7,345.3 868.1,334.9 868.1,337.1 831.8,347.7" fill="#f3e77e"/><polygon points="879.1,334.6 885.0,332.8 884.9,336.6 879.0,338.4" fill="#e4e41c"/><polygon points="888.5,331.8 893.4,330.4 893.3,334.2 888.4,335.6" fill="#e4e41c"/><polygon points="897.4,329.3 902.8,327.7 902.6,331.4 897.2,333.0" fill="#e4e41c"/><polygon points="878.7,331.8 903.4,324.8 903.3,326.9 878.6,334.1" fill="#f3e77e"/><polygon points="913.6,324.5 918.8,323.0 918.6,326.6 913.4,328.2" fill="#e4e41c"/><polygon points="921.8,322.1 926.2,320.9 926.0,324.5 921.6,325.7" fill="#e4e41c"/><polygon points="929.6,319.9 934.4,318.5 934.2,322.0 929.5,323.4" fill="#e4e41c"/><polygon points="913.2,321.9 935.0,315.7 934.9,317.8 913.1,324.1" fill="#f3e77e"/><line x1="725.4" y1="306.5" x2="729.5" y2="377.3" stroke="#33400f" stroke-width="1.2"/><line x1="748.0" y1="301.9" x2="751.3" y2="371.0" stroke="#33400f" stroke-width="1.2"/><line x1="788.4" y1="293.7" x2="790.4" y2="359.7" stroke="#33400f" stroke-width="1.2"/><line x1="807.5" y1="289.8" x2="808.8" y2="354.3" stroke="#33400f" stroke-width="1.2"/><line x1="842.4" y1="282.7" x2="842.6" y2="344.5" stroke="#33400f" stroke-width="1.2"/><line x1="858.9" y1="279.3" x2="858.5" y2="339.9" stroke="#33400f" stroke-width="1.2"/><line x1="887.5" y1="273.5" x2="886.2" y2="331.9" stroke="#33400f" stroke-width="1.2"/><line x1="896.2" y1="271.7" x2="894.6" y2="329.4" stroke="#33400f" stroke-width="1.2"/><line x1="922.0" y1="266.5" x2="919.5" y2="322.2" stroke="#33400f" stroke-width="1.2"/><line x1="929.6" y1="264.9" x2="926.9" y2="320.1" stroke="#33400f" stroke-width="1.2"/><polygon points="700.5,311.5 710.4,309.5 715.3,386.2 705.7,389.0" fill="#c5884e"/><line x1="700.5" y1="311.5" x2="710.4" y2="309.5" stroke="#6e4520" stroke-width="0.45"/><line x1="701.2" y1="321.5" x2="711.0" y2="319.3" stroke="#6e4520" stroke-width="0.45"/><line x1="701.5" y1="325.7" x2="711.3" y2="323.5" stroke="#6e4520" stroke-width="0.45"/><line x1="701.9" y1="332.2" x2="711.7" y2="329.9" stroke="#6e4520" stroke-width="0.45"/><line x1="702.1" y1="335.1" x2="711.9" y2="332.8" stroke="#6e4520" stroke-width="0.45"/><line x1="702.4" y1="339.3" x2="712.2" y2="337.0" stroke="#6e4520" stroke-width="0.45"/><line x1="703.2" y1="351.7" x2="712.9" y2="349.2" stroke="#6e4520" stroke-width="0.45"/><line x1="704.0" y1="362.8" x2="713.6" y2="360.3" stroke="#6e4520" stroke-width="0.45"/><line x1="704.4" y1="369.7" x2="714.1" y2="367.1" stroke="#6e4520" stroke-width="0.45"/><line x1="704.9" y1="377.0" x2="714.5" y2="374.3" stroke="#6e4520" stroke-width="0.45"/><line x1="705.2" y1="381.5" x2="714.8" y2="378.8" stroke="#6e4520" stroke-width="0.45"/><line x1="700.5" y1="311.5" x2="705.7" y2="389.0" stroke="#6e4520" stroke-width="0.9"/><line x1="710.4" y1="309.5" x2="715.3" y2="386.2" stroke="#6e4520" stroke-width="0.9"/><polygon points="762.6,298.9 769.7,297.5 772.5,369.3 765.6,371.3" fill="#c5884e"/><line x1="762.6" y1="298.9" x2="769.7" y2="297.5" stroke="#6e4520" stroke-width="0.45"/><line x1="763.0" y1="308.2" x2="770.1" y2="306.6" stroke="#6e4520" stroke-width="0.45"/><line x1="763.2" y1="312.1" x2="770.2" y2="310.6" stroke="#6e4520" stroke-width="0.45"/><line x1="763.4" y1="318.2" x2="770.4" y2="316.6" stroke="#6e4520" stroke-width="0.45"/><line x1="763.5" y1="320.9" x2="770.5" y2="319.3" stroke="#6e4520" stroke-width="0.45"/><line x1="763.7" y1="324.9" x2="770.7" y2="323.2" stroke="#6e4520" stroke-width="0.45"/><line x1="764.2" y1="336.4" x2="771.1" y2="334.6" stroke="#6e4520" stroke-width="0.45"/><line x1="764.6" y1="346.8" x2="771.5" y2="345.0" stroke="#6e4520" stroke-width="0.45"/><line x1="764.9" y1="353.3" x2="771.8" y2="351.4" stroke="#6e4520" stroke-width="0.45"/><line x1="765.2" y1="360.1" x2="772.1" y2="358.1" stroke="#6e4520" stroke-width="0.45"/><line x1="765.3" y1="364.3" x2="772.2" y2="362.4" stroke="#6e4520" stroke-width="0.45"/><line x1="762.6" y1="298.9" x2="765.6" y2="371.3" stroke="#6e4520" stroke-width="0.9"/><line x1="769.7" y1="297.5" x2="772.5" y2="369.3" stroke="#6e4520" stroke-width="0.9"/><polygon points="769.7,297.5 776.6,296.1 779.1,367.3 772.5,369.3" fill="#c5884e"/><line x1="769.7" y1="297.5" x2="776.6" y2="296.1" stroke="#6e4520" stroke-width="0.45"/><line x1="770.1" y1="306.6" x2="776.9" y2="305.2" stroke="#6e4520" stroke-width="0.45"/><line x1="770.2" y1="310.6" x2="777.1" y2="309.1" stroke="#6e4520" stroke-width="0.45"/><line x1="770.4" y1="316.6" x2="777.3" y2="315.0" stroke="#6e4520" stroke-width="0.45"/><line x1="770.5" y1="319.3" x2="777.4" y2="317.7" stroke="#6e4520" stroke-width="0.45"/><line x1="770.7" y1="323.2" x2="777.5" y2="321.6" stroke="#6e4520" stroke-width="0.45"/><line x1="771.1" y1="334.6" x2="777.9" y2="332.9" stroke="#6e4520" stroke-width="0.45"/><line x1="771.5" y1="345.0" x2="778.3" y2="343.2" stroke="#6e4520" stroke-width="0.45"/><line x1="771.8" y1="351.4" x2="778.5" y2="349.6" stroke="#6e4520" stroke-width="0.45"/><line x1="772.1" y1="358.1" x2="778.7" y2="356.2" stroke="#6e4520" stroke-width="0.45"/><line x1="772.2" y1="362.4" x2="778.9" y2="360.4" stroke="#6e4520" stroke-width="0.45"/><line x1="769.7" y1="297.5" x2="772.5" y2="369.3" stroke="#6e4520" stroke-width="0.9"/><line x1="776.6" y1="296.1" x2="779.1" y2="367.3" stroke="#6e4520" stroke-width="0.9"/><polygon points="819.4,287.3 825.3,286.1 826.1,353.4 820.4,355.1" fill="#c5884e"/><line x1="819.4" y1="287.3" x2="825.3" y2="286.1" stroke="#6e4520" stroke-width="0.45"/><line x1="819.5" y1="296.0" x2="825.4" y2="294.8" stroke="#6e4520" stroke-width="0.45"/><line x1="819.6" y1="299.7" x2="825.4" y2="298.4" stroke="#6e4520" stroke-width="0.45"/><line x1="819.7" y1="305.4" x2="825.5" y2="304.0" stroke="#6e4520" stroke-width="0.45"/><line x1="819.7" y1="307.9" x2="825.5" y2="306.6" stroke="#6e4520" stroke-width="0.45"/><line x1="819.8" y1="311.6" x2="825.6" y2="310.3" stroke="#6e4520" stroke-width="0.45"/><line x1="819.9" y1="322.4" x2="825.7" y2="321.0" stroke="#6e4520" stroke-width="0.45"/><line x1="820.1" y1="332.2" x2="825.8" y2="330.7" stroke="#6e4520" stroke-width="0.45"/><line x1="820.2" y1="338.2" x2="825.9" y2="336.7" stroke="#6e4520" stroke-width="0.45"/><line x1="820.3" y1="344.6" x2="826.0" y2="343.0" stroke="#6e4520" stroke-width="0.45"/><line x1="820.3" y1="348.6" x2="826.0" y2="346.9" stroke="#6e4520" stroke-width="0.45"/><line x1="819.4" y1="287.3" x2="820.4" y2="355.1" stroke="#6e4520" stroke-width="0.9"/><line x1="825.3" y1="286.1" x2="826.1" y2="353.4" stroke="#6e4520" stroke-width="0.9"/><polygon points="825.3,286.1 831.2,284.9 831.8,351.7 826.1,353.4" fill="#c5884e"/><line x1="825.3" y1="286.1" x2="831.2" y2="284.9" stroke="#6e4520" stroke-width="0.45"/><line x1="825.4" y1="294.8" x2="831.3" y2="293.5" stroke="#6e4520" stroke-width="0.45"/><line x1="825.4" y1="298.4" x2="831.3" y2="297.2" stroke="#6e4520" stroke-width="0.45"/><line x1="825.5" y1="304.0" x2="831.4" y2="302.7" stroke="#6e4520" stroke-width="0.45"/><line x1="825.5" y1="306.6" x2="831.4" y2="305.2" stroke="#6e4520" stroke-width="0.45"/><line x1="825.6" y1="310.3" x2="831.4" y2="308.9" stroke="#6e4520" stroke-width="0.45"/><line x1="825.7" y1="321.0" x2="831.5" y2="319.5" stroke="#6e4520" stroke-width="0.45"/><line x1="825.8" y1="330.7" x2="831.6" y2="329.2" stroke="#6e4520" stroke-width="0.45"/><line x1="825.9" y1="336.7" x2="831.6" y2="335.1" stroke="#6e4520" stroke-width="0.45"/><line x1="826.0" y1="343.0" x2="831.7" y2="341.4" stroke="#6e4520" stroke-width="0.45"/><line x1="826.0" y1="346.9" x2="831.7" y2="345.3" stroke="#6e4520" stroke-width="0.45"/><line x1="825.3" y1="286.1" x2="826.1" y2="353.4" stroke="#6e4520" stroke-width="0.9"/><line x1="831.2" y1="284.9" x2="831.8" y2="351.7" stroke="#6e4520" stroke-width="0.9"/><polygon points="868.8,277.3 874.2,276.2 873.3,339.5 868.1,341.0" fill="#c5884e"/><line x1="868.8" y1="277.3" x2="874.2" y2="276.2" stroke="#6e4520" stroke-width="0.45"/><line x1="868.7" y1="285.4" x2="874.1" y2="284.3" stroke="#6e4520" stroke-width="0.45"/><line x1="868.7" y1="288.9" x2="874.0" y2="287.8" stroke="#6e4520" stroke-width="0.45"/><line x1="868.6" y1="294.2" x2="874.0" y2="293.0" stroke="#6e4520" stroke-width="0.45"/><line x1="868.6" y1="296.6" x2="873.9" y2="295.4" stroke="#6e4520" stroke-width="0.45"/><line x1="868.5" y1="300.1" x2="873.9" y2="298.9" stroke="#6e4520" stroke-width="0.45"/><line x1="868.4" y1="310.3" x2="873.7" y2="309.0" stroke="#6e4520" stroke-width="0.45"/><line x1="868.3" y1="319.5" x2="873.6" y2="318.1" stroke="#6e4520" stroke-width="0.45"/><line x1="868.2" y1="325.2" x2="873.5" y2="323.7" stroke="#6e4520" stroke-width="0.45"/><line x1="868.2" y1="331.1" x2="873.4" y2="329.6" stroke="#6e4520" stroke-width="0.45"/><line x1="868.1" y1="334.9" x2="873.4" y2="333.4" stroke="#6e4520" stroke-width="0.45"/><line x1="868.8" y1="277.3" x2="868.1" y2="341.0" stroke="#6e4520" stroke-width="0.9"/><line x1="874.2" y1="276.2" x2="873.3" y2="339.5" stroke="#6e4520" stroke-width="0.9"/><polygon points="874.2,276.2 879.7,275.1 878.6,337.9 873.3,339.5" fill="#c5884e"/><line x1="874.2" y1="276.2" x2="879.7" y2="275.1" stroke="#6e4520" stroke-width="0.45"/><line x1="874.1" y1="284.3" x2="879.6" y2="283.1" stroke="#6e4520" stroke-width="0.45"/><line x1="874.0" y1="287.8" x2="879.5" y2="286.6" stroke="#6e4520" stroke-width="0.45"/><line x1="874.0" y1="293.0" x2="879.4" y2="291.8" stroke="#6e4520" stroke-width="0.45"/><line x1="873.9" y1="295.4" x2="879.4" y2="294.1" stroke="#6e4520" stroke-width="0.45"/><line x1="873.9" y1="298.9" x2="879.3" y2="297.6" stroke="#6e4520" stroke-width="0.45"/><line x1="873.7" y1="309.0" x2="879.1" y2="307.6" stroke="#6e4520" stroke-width="0.45"/><line x1="873.6" y1="318.1" x2="879.0" y2="316.7" stroke="#6e4520" stroke-width="0.45"/><line x1="873.5" y1="323.7" x2="878.8" y2="322.3" stroke="#6e4520" stroke-width="0.45"/><line x1="873.4" y1="329.6" x2="878.7" y2="328.1" stroke="#6e4520" stroke-width="0.45"/><line x1="873.4" y1="333.4" x2="878.7" y2="331.8" stroke="#6e4520" stroke-width="0.45"/><line x1="874.2" y1="276.2" x2="873.3" y2="339.5" stroke="#6e4520" stroke-width="0.9"/><line x1="879.7" y1="275.1" x2="878.6" y2="337.9" stroke="#6e4520" stroke-width="0.9"/><polygon points="905.2,269.9 910.1,268.9 907.9,329.2 903.2,330.6" fill="#c5884e"/><line x1="905.2" y1="269.9" x2="910.1" y2="268.9" stroke="#6e4520" stroke-width="0.45"/><line x1="904.9" y1="277.7" x2="909.8" y2="276.6" stroke="#6e4520" stroke-width="0.45"/><line x1="904.8" y1="281.0" x2="909.7" y2="279.9" stroke="#6e4520" stroke-width="0.45"/><line x1="904.7" y1="286.0" x2="909.5" y2="284.9" stroke="#6e4520" stroke-width="0.45"/><line x1="904.6" y1="288.3" x2="909.4" y2="287.2" stroke="#6e4520" stroke-width="0.45"/><line x1="904.5" y1="291.7" x2="909.3" y2="290.5" stroke="#6e4520" stroke-width="0.45"/><line x1="904.1" y1="301.3" x2="909.0" y2="300.1" stroke="#6e4520" stroke-width="0.45"/><line x1="903.9" y1="310.1" x2="908.6" y2="308.8" stroke="#6e4520" stroke-width="0.45"/><line x1="903.7" y1="315.5" x2="908.4" y2="314.2" stroke="#6e4520" stroke-width="0.45"/><line x1="903.5" y1="321.2" x2="908.2" y2="319.9" stroke="#6e4520" stroke-width="0.45"/><line x1="903.4" y1="324.8" x2="908.1" y2="323.4" stroke="#6e4520" stroke-width="0.45"/><line x1="905.2" y1="269.9" x2="903.2" y2="330.6" stroke="#6e4520" stroke-width="0.9"/><line x1="910.1" y1="268.9" x2="907.9" y2="329.2" stroke="#6e4520" stroke-width="0.9"/><polygon points="910.1,268.9 915.4,267.8 913.0,327.7 907.9,329.2" fill="#c5884e"/><line x1="910.1" y1="268.9" x2="915.4" y2="267.8" stroke="#6e4520" stroke-width="0.45"/><line x1="909.8" y1="276.6" x2="915.1" y2="275.5" stroke="#6e4520" stroke-width="0.45"/><line x1="909.7" y1="279.9" x2="915.0" y2="278.8" stroke="#6e4520" stroke-width="0.45"/><line x1="909.5" y1="284.9" x2="914.8" y2="283.7" stroke="#6e4520" stroke-width="0.45"/><line x1="909.4" y1="287.2" x2="914.7" y2="286.0" stroke="#6e4520" stroke-width="0.45"/><line x1="909.3" y1="290.5" x2="914.5" y2="289.3" stroke="#6e4520" stroke-width="0.45"/><line x1="909.0" y1="300.1" x2="914.2" y2="298.8" stroke="#6e4520" stroke-width="0.45"/><line x1="908.6" y1="308.8" x2="913.8" y2="307.5" stroke="#6e4520" stroke-width="0.45"/><line x1="908.4" y1="314.2" x2="913.6" y2="312.8" stroke="#6e4520" stroke-width="0.45"/><line x1="908.2" y1="319.9" x2="913.4" y2="318.4" stroke="#6e4520" stroke-width="0.45"/><line x1="908.1" y1="323.4" x2="913.2" y2="321.9" stroke="#6e4520" stroke-width="0.45"/><line x1="910.1" y1="268.9" x2="907.9" y2="329.2" stroke="#6e4520" stroke-width="0.9"/><line x1="915.4" y1="267.8" x2="913.0" y2="327.7" stroke="#6e4520" stroke-width="0.9"/><polygon points="937.9,263.2 942.0,262.4 938.7,320.1 934.7,321.3" fill="#c5884e"/><line x1="937.9" y1="263.2" x2="942.0" y2="262.4" stroke="#6e4520" stroke-width="0.45"/><line x1="937.5" y1="270.7" x2="941.6" y2="269.8" stroke="#6e4520" stroke-width="0.45"/><line x1="937.3" y1="273.8" x2="941.4" y2="272.9" stroke="#6e4520" stroke-width="0.45"/><line x1="937.0" y1="278.7" x2="941.1" y2="277.8" stroke="#6e4520" stroke-width="0.45"/><line x1="936.9" y1="280.9" x2="941.0" y2="279.9" stroke="#6e4520" stroke-width="0.45"/><line x1="936.8" y1="284.0" x2="940.8" y2="283.1" stroke="#6e4520" stroke-width="0.45"/><line x1="936.2" y1="293.3" x2="940.3" y2="292.3" stroke="#6e4520" stroke-width="0.45"/><line x1="935.8" y1="301.7" x2="939.8" y2="300.6" stroke="#6e4520" stroke-width="0.45"/><line x1="935.5" y1="306.9" x2="939.5" y2="305.8" stroke="#6e4520" stroke-width="0.45"/><line x1="935.2" y1="312.3" x2="939.2" y2="311.2" stroke="#6e4520" stroke-width="0.45"/><line x1="935.0" y1="315.7" x2="939.0" y2="314.6" stroke="#6e4520" stroke-width="0.45"/><line x1="937.9" y1="263.2" x2="934.7" y2="321.3" stroke="#6e4520" stroke-width="0.9"/><line x1="942.0" y1="262.4" x2="938.7" y2="320.1" stroke="#6e4520" stroke-width="0.9"/><polygon points="702.4,329.0 941.2,275.5 941.1,277.8 702.6,332.0" fill="#15150c"/><polygon points="703.7,348.3 940.4,289.9 940.3,292.3 703.9,351.5" fill="#15150c"/><polygon points="704.9,366.2 939.6,303.2 939.5,305.8 705.1,369.6" fill="#15150c"/><polygon points="705.8,380.1 939.0,313.6 939.0,314.6 705.9,381.4" fill="#3a3a18"/><line x1="769.7" y1="297.5" x2="772.5" y2="369.6" stroke="#201408" stroke-width="1.0"/><line x1="825.3" y1="286.1" x2="826.1" y2="353.8" stroke="#201408" stroke-width="1.0"/><line x1="874.2" y1="276.2" x2="873.3" y2="339.8" stroke="#201408" stroke-width="1.0"/><line x1="910.1" y1="268.9" x2="907.9" y2="329.5" stroke="#201408" stroke-width="1.0"/><line x1="701.2" y1="311.4" x2="942.0" y2="262.4" stroke="#26260c" stroke-width="0.8"/><line x1="701.2" y1="311.4" x2="706.5" y2="390.0" stroke="#26260c" stroke-width="0.8"/><line x1="663.0" y1="278.7" x2="701.2" y2="311.4" stroke="#26260c" stroke-width="0.8"/><line x1="663.0" y1="278.7" x2="877.0" y2="244.6" stroke="#26260c" stroke-width="0.8"/><line x1="877.0" y1="244.6" x2="942.0" y2="262.4" stroke="#26260c" stroke-width="0.8"/><line x1="942.0" y1="262.4" x2="938.6" y2="321.0" stroke="#26260c" stroke-width="0.8"/><line x1="706.5" y1="390.0" x2="938.6" y2="321.0" stroke="#26260c" stroke-width="0.8"/><line x1="663.0" y1="278.7" x2="668.2" y2="344.8" stroke="#26260c" stroke-width="0.8"/><line x1="668.2" y1="344.8" x2="706.5" y2="390.0" stroke="#26260c" stroke-width="0.8"/><line x1="690.8" y1="262.0" x2="949.0" y2="225.4" stroke="#45450a" stroke-width="0.7"/><line x1="651.0" y1="237.0" x2="690.8" y2="262.0" stroke="#45450a" stroke-width="0.8"/><line x1="690.8" y1="262.0" x2="692.9" y2="304.5" stroke="#3a3a3a" stroke-width="0.7"/><circle cx="651" cy="237" r="1.0" fill="#3a3a0a"/><circle cx="949" cy="225.4" r="1.0" fill="#3a3a0a"/><circle cx="878.7" cy="212.3" r="1.0" fill="#3a3a0a"/><circle cx="690.8" cy="262" r="1.0" fill="#3a3a0a"/></g></svg>
<div id="tx" style="position:absolute;left:0;top:0;width:1024px;height:729px;will-change:transform">
<div class="t" style="left:63.30px;top:11.00px;font-size:12px;line-height:12px;color:#222;letter-spacing:0.288px;-webkit-text-stroke:0.3px;">Single Size Solutions</div>
<div class="t" style="left:208.00px;top:11.00px;font-size:12px;line-height:12px;color:#555;letter-spacing:0.078px;-webkit-text-stroke:0.3px;">24-Pack</div>
<div class="t" style="left:144.40px;top:67.00px;font-size:14px;line-height:14px;color:#878b92;font-weight:bold;letter-spacing:-0.110px;">Report Builder</div>
<div class="t" style="left:87.50px;top:116.00px;font-size:14px;line-height:14px;color:#111;font-weight:bold;letter-spacing:0.008px;">Select Your Truck Style</div>
<div class="t" style="left:87.50px;top:134.00px;font-size:10px;line-height:10px;color:#111;letter-spacing:-0.206px;-webkit-text-stroke:0.18px;">Select Your Truck style and choose the preferred solution from the list</div>
<div class="t" style="left:87.50px;top:148.00px;font-size:10px;line-height:10px;color:#111;font-weight:bold;letter-spacing:0.219px;">To create a new truck style, go to the Database option under settings.</div>
<div class="t" style="left:94.50px;top:176.00px;font-size:10px;line-height:10px;color:#444;letter-spacing:-0.377px;-webkit-text-stroke:0.18px;">20-DRY-m</div>
<div class="t" style="left:152.00px;top:176.00px;font-size:10px;line-height:10px;color:#444;letter-spacing:-0.269px;-webkit-text-stroke:0.18px;">Maersk 20ft Standard</div>
<div class="t" style="left:87.50px;top:204.00px;font-size:10.5px;line-height:10.5px;color:#111;font-weight:bold;letter-spacing:0.271px;">Inside Container Dimensions</div>
<div class="t" style="left:245.00px;top:205.00px;font-size:10px;line-height:10px;color:#111;letter-spacing:0.081px;-webkit-text-stroke:0.18px;">(in/lb)</div>
<div class="t" style="left:87.50px;top:231.00px;font-size:10px;line-height:10px;color:#111;letter-spacing:-0.369px;-webkit-text-stroke:0.18px;">Length</div>
<div class="t" style="left:261.03px;top:233.00px;font-size:10px;line-height:10px;color:#a3a3a3;letter-spacing:-0.250px;-webkit-text-stroke:0.18px;">232.2000</div>
<div class="t" style="left:87.50px;top:255.00px;font-size:10px;line-height:10px;color:#111;letter-spacing:-0.391px;-webkit-text-stroke:0.18px;">Width</div>
<div class="t" style="left:266.34px;top:257.00px;font-size:10px;line-height:10px;color:#a3a3a3;letter-spacing:-0.250px;-webkit-text-stroke:0.18px;">92.5200</div>
<div class="t" style="left:87.50px;top:279.00px;font-size:10px;line-height:10px;color:#111;letter-spacing:-0.281px;-webkit-text-stroke:0.18px;">Height</div>
<div class="t" style="left:266.34px;top:281.00px;font-size:10px;line-height:10px;color:#a3a3a3;letter-spacing:-0.250px;-webkit-text-stroke:0.18px;">89.6400</div>
<div class="t" style="left:87.50px;top:302.00px;font-size:10px;line-height:10px;color:#111;letter-spacing:-0.391px;-webkit-text-stroke:0.18px;">Weight</div>
<div class="t" style="left:255.72px;top:305.00px;font-size:10px;line-height:10px;color:#a3a3a3;letter-spacing:-0.250px;-webkit-text-stroke:0.18px;">5030.0000</div>
<div class="t" style="left:87.50px;top:326.00px;font-size:10px;line-height:10px;color:#111;letter-spacing:-0.283px;-webkit-text-stroke:0.18px;">Maximum Load Weight</div>
<div class="t" style="left:190.00px;top:328.00px;font-size:10px;line-height:10px;color:#111;font-weight:bold;">*</div>
<div class="t" style="left:250.41px;top:328.00px;font-size:10px;line-height:10px;color:#333;letter-spacing:-0.250px;-webkit-text-stroke:0.18px;">55000.0000</div>
<div class="t" style="left:87.50px;top:350.00px;font-size:10px;line-height:10px;color:#111;letter-spacing:-0.253px;-webkit-text-stroke:0.18px;">Maximum Load Height</div>
<div class="t" style="left:190.00px;top:351.00px;font-size:10px;line-height:10px;color:#111;font-weight:bold;">*</div>
<div class="t" style="left:266.34px;top:352.00px;font-size:10px;line-height:10px;color:#333;letter-spacing:-0.250px;-webkit-text-stroke:0.18px;">85.0000</div>
<div class="t" style="left:87.50px;top:376.00px;font-size:10.5px;line-height:10.5px;color:#111;font-weight:bold;letter-spacing:0.257px;">Product Loading Direction</div>
<div class="t" style="left:104.50px;top:396.00px;font-size:10px;line-height:10px;color:#111;letter-spacing:-0.403px;-webkit-text-stroke:0.18px;">Center</div>
<div class="t" style="left:240.25px;top:396.00px;font-size:10px;line-height:10px;color:#111;letter-spacing:-0.578px;-webkit-text-stroke:0.18px;">Back</div>
<div class="t" style="left:172.25px;top:454.00px;font-size:12px;line-height:12px;color:#fff;font-weight:bold;letter-spacing:-0.107px;">Calculate</div>
<div class="t" style="left:87.80px;top:481.00px;font-size:10.5px;line-height:10.5px;color:#111;font-weight:bold;letter-spacing:0.145px;">Solutions</div>
<div class="t" style="left:358.00px;top:255.00px;font-size:10.5px;line-height:10.5px;color:#111;font-weight:bold;letter-spacing:0.312px;">Select Loading Patterns</div>
<div class="t" style="left:375.50px;top:283.00px;font-size:10px;line-height:10px;color:#111;letter-spacing:-0.394px;-webkit-text-stroke:0.18px;">Column</div>
<div class="t" style="left:510.75px;top:283.00px;font-size:10px;line-height:10px;color:#111;letter-spacing:-0.391px;-webkit-text-stroke:0.18px;">Diagonal</div>
<div class="t" style="left:375.50px;top:297.00px;font-size:10px;line-height:10px;color:#111;letter-spacing:-0.193px;-webkit-text-stroke:0.18px;">Interlock</div>
<div class="t" style="left:510.75px;top:297.00px;font-size:10px;line-height:10px;color:#111;letter-spacing:-0.416px;-webkit-text-stroke:0.18px;">Spiral</div>
<div class="t" style="left:375.50px;top:310.00px;font-size:10px;line-height:10px;color:#111;letter-spacing:-0.221px;-webkit-text-stroke:0.18px;">Trilock</div>
<div class="t" style="left:510.75px;top:310.00px;font-size:10px;line-height:10px;color:#111;letter-spacing:-0.439px;-webkit-text-stroke:0.18px;">Expanded Spiral</div>
<div class="t" style="left:375.50px;top:348.00px;font-size:10px;line-height:10px;color:#111;letter-spacing:-0.229px;-webkit-text-stroke:0.18px;">Allow Partial Top Layer</div>
<div class="t" style="left:358.00px;top:375.00px;font-size:10.5px;line-height:10.5px;color:#111;font-weight:bold;letter-spacing:0.312px;">Partial Top Layer Gap</div>
<div class="t" style="left:375.50px;top:395.00px;font-size:10px;line-height:10px;color:#111;letter-spacing:-0.578px;-webkit-text-stroke:0.18px;">Back</div>
<div class="t" style="left:510.50px;top:395.00px;font-size:10px;line-height:10px;color:#111;letter-spacing:-0.461px;-webkit-text-stroke:0.18px;">Front</div>
<div class="t" style="left:338.00px;top:425.00px;font-size:10px;line-height:10px;color:#111;letter-spacing:-0.314px;-webkit-text-stroke:0.18px;">Pallet Load Gross Weight</div>
<div class="t" style="left:453.70px;top:424.00px;font-size:10.5px;line-height:10.5px;color:#111;font-weight:bold;letter-spacing:0.491px;">242.20 lb</div>
<div class="t" style="left:694.00px;top:122.00px;font-size:11px;line-height:11px;color:#4d4d4d;letter-spacing:0.023px;-webkit-text-stroke:0.18px;">Default Settings</div>
<div class="t" style="left:859.30px;top:123.00px;font-size:11.5px;line-height:11.5px;color:#fff;font-weight:bold;letter-spacing:0.042px;">Save Truck Load</div>
<div class="t" style="left:757.00px;top:429.00px;font-size:10px;line-height:10px;color:#111;letter-spacing:-0.271px;-webkit-text-stroke:0.18px;">Showing Solution 1 of 39</div>
<div class="t" style="left:655.50px;top:384.00px;font-size:10px;line-height:10px;color:#555;font-weight:bold;letter-spacing:-0.219px;">92.520</div>
<div class="t" style="left:805.20px;top:371.00px;font-size:10px;line-height:10px;color:#555;font-weight:bold;letter-spacing:-0.293px;">232.200</div>
<div class="t" style="left:951.80px;top:269.00px;font-size:10px;line-height:10px;color:#555;font-weight:bold;letter-spacing:-0.259px;">89.640</div>
<div class="t" style="left:96.40px;top:509.00px;font-size:10px;line-height:10px;color:#3c4a58;font-weight:bold;letter-spacing:0.450px;">Sol.</div>
<div class="t" style="left:97.75px;top:522.00px;font-size:10px;line-height:10px;color:#3c4a58;font-weight:bold;letter-spacing:0.450px;">No.</div>
<div class="t" style="left:136.42px;top:509.00px;font-size:10px;line-height:10px;color:#3c4a58;font-weight:bold;letter-spacing:0.450px;">Pattern</div>
<div class="t" style="left:143.02px;top:522.00px;font-size:10px;line-height:10px;color:#3c4a58;font-weight:bold;letter-spacing:0.450px;">Type</div>
<div class="t" style="left:196.57px;top:509.00px;font-size:10px;line-height:10px;color:#3c4a58;font-weight:bold;letter-spacing:0.450px;"># Per</div>
<div class="t" style="left:197.08px;top:522.00px;font-size:10px;line-height:10px;color:#3c4a58;font-weight:bold;letter-spacing:0.450px;">Load</div>
<div class="t" style="left:248.12px;top:509.00px;font-size:10px;line-height:10px;color:#3c4a58;font-weight:bold;letter-spacing:0.450px;"># Per</div>
<div class="t" style="left:247.01px;top:522.00px;font-size:10px;line-height:10px;color:#3c4a58;font-weight:bold;letter-spacing:0.450px;">Layer</div>
<div class="t" style="left:304.18px;top:509.00px;font-size:10px;line-height:10px;color:#3c4a58;font-weight:bold;letter-spacing:0.450px;"># of</div>
<div class="t" style="left:296.50px;top:522.00px;font-size:10px;line-height:10px;color:#3c4a58;font-weight:bold;letter-spacing:0.450px;">Layers</div>
<div class="t" style="left:352.84px;top:509.00px;font-size:10px;line-height:10px;color:#3c4a58;font-weight:bold;letter-spacing:0.450px;">SP Per</div>
<div class="t" style="left:355.53px;top:522.00px;font-size:10px;line-height:10px;color:#3c4a58;font-weight:bold;letter-spacing:0.450px;">Pallet</div>
<div class="t" style="left:412.24px;top:509.00px;font-size:10px;line-height:10px;color:#3c4a58;font-weight:bold;letter-spacing:0.450px;">SP Per</div>
<div class="t" style="left:415.16px;top:522.00px;font-size:10px;line-height:10px;color:#3c4a58;font-weight:bold;letter-spacing:0.450px;">Truck</div>
<div class="t" style="left:476.29px;top:509.00px;font-size:10px;line-height:10px;color:#3c4a58;font-weight:bold;letter-spacing:0.450px;">Dim.</div>
<div class="t" style="left:468.43px;top:522.00px;font-size:10px;line-height:10px;color:#3c4a58;font-weight:bold;letter-spacing:0.450px;">Vertical</div>
<div class="t" style="left:526.83px;top:509.00px;font-size:10px;line-height:10px;color:#3c4a58;font-weight:bold;letter-spacing:0.450px;">Cube</div>
<div class="t" style="left:531.27px;top:522.00px;font-size:10px;line-height:10px;color:#3c4a58;font-weight:bold;letter-spacing:0.450px;">Eff.</div>
<div class="t" style="left:571.20px;top:509.00px;font-size:10px;line-height:10px;color:#3c4a58;font-weight:bold;letter-spacing:0.450px;">Area</div>
<div class="t" style="left:574.27px;top:522.00px;font-size:10px;line-height:10px;color:#3c4a58;font-weight:bold;letter-spacing:0.450px;">Eff.</div>
<div class="t" style="left:617.21px;top:509.00px;font-size:10px;line-height:10px;color:#3c4a58;font-weight:bold;letter-spacing:0.450px;">Length</div>
<div class="t" style="left:619.65px;top:522.00px;font-size:10px;line-height:10px;color:#3c4a58;font-weight:bold;letter-spacing:0.450px;">Under</div>
<div class="t" style="left:678.26px;top:509.00px;font-size:10px;line-height:10px;color:#3c4a58;font-weight:bold;letter-spacing:0.450px;">Width</div>
<div class="t" style="left:677.65px;top:522.00px;font-size:10px;line-height:10px;color:#3c4a58;font-weight:bold;letter-spacing:0.450px;">Under</div>
<div class="t" style="left:735.16px;top:509.00px;font-size:10px;line-height:10px;color:#3c4a58;font-weight:bold;letter-spacing:0.450px;">Product</div>
<div class="t" style="left:737.61px;top:522.00px;font-size:10px;line-height:10px;color:#3c4a58;font-weight:bold;letter-spacing:0.450px;">Length</div>
<div class="t" style="left:801.76px;top:509.00px;font-size:10px;line-height:10px;color:#3c4a58;font-weight:bold;letter-spacing:0.450px;">Product</div>
<div class="t" style="left:807.26px;top:522.00px;font-size:10px;line-height:10px;color:#3c4a58;font-weight:bold;letter-spacing:0.450px;">Width</div>
<div class="t" style="left:867.76px;top:509.00px;font-size:10px;line-height:10px;color:#3c4a58;font-weight:bold;letter-spacing:0.450px;">Product</div>
<div class="t" style="left:871.32px;top:522.00px;font-size:10px;line-height:10px;color:#3c4a58;font-weight:bold;letter-spacing:0.450px;">Height</div>
<div class="t" style="left:935.76px;top:509.00px;font-size:10px;line-height:10px;color:#3c4a58;font-weight:bold;letter-spacing:0.450px;">Product</div>
<div class="t" style="left:938.30px;top:522.00px;font-size:10px;line-height:10px;color:#3c4a58;font-weight:bold;letter-spacing:0.450px;">Weight</div>
<div class="t" style="left:92.50px;top:544.00px;font-size:10px;line-height:10px;color:#fff;letter-spacing:-0.300px;-webkit-text-stroke:0.18px;">1</div>
<div class="t" style="left:130.00px;top:544.00px;font-size:10px;line-height:10px;color:#fff;letter-spacing:-0.300px;-webkit-text-stroke:0.18px;">Spiral</div>
<div class="t" style="left:188.75px;top:544.00px;font-size:10px;line-height:10px;color:#fff;letter-spacing:-0.300px;-webkit-text-stroke:0.18px;">10</div>
<div class="t" style="left:239.40px;top:544.00px;font-size:10px;line-height:10px;color:#fff;letter-spacing:-0.300px;-webkit-text-stroke:0.18px;">10</div>
<div class="t" style="left:292.50px;top:544.00px;font-size:10px;line-height:10px;color:#fff;letter-spacing:-0.300px;-webkit-text-stroke:0.18px;">1</div>
<div class="t" style="left:344.00px;top:544.00px;font-size:10px;line-height:10px;color:#fff;letter-spacing:-0.300px;-webkit-text-stroke:0.18px;">50</div>
<div class="t" style="left:404.00px;top:544.00px;font-size:10px;line-height:10px;color:#fff;letter-spacing:-0.300px;-webkit-text-stroke:0.18px;">500</div>
<div class="t" style="left:462.40px;top:544.00px;font-size:10px;line-height:10px;color:#fff;letter-spacing:-0.300px;-webkit-text-stroke:0.18px;">Height</div>
<div class="t" style="left:539.23px;top:544.00px;font-size:10px;line-height:10px;color:#fff;letter-spacing:-0.300px;-webkit-text-stroke:0.18px;">61.0</div>
<div class="t" style="left:581.73px;top:544.00px;font-size:10px;line-height:10px;color:#fff;letter-spacing:-0.300px;-webkit-text-stroke:0.18px;">92.1</div>
<div class="t" style="left:642.63px;top:544.00px;font-size:10px;line-height:10px;color:#fff;letter-spacing:-0.300px;-webkit-text-stroke:0.18px;">2.45</div>
<div class="t" style="left:698.93px;top:544.00px;font-size:10px;line-height:10px;color:#fff;letter-spacing:-0.300px;-webkit-text-stroke:0.18px;">1.60</div>
<div class="t" style="left:756.51px;top:544.00px;font-size:10px;line-height:10px;color:#fff;letter-spacing:-0.300px;-webkit-text-stroke:0.18px;">227.30</div>
<div class="t" style="left:826.77px;top:544.00px;font-size:10px;line-height:10px;color:#fff;letter-spacing:-0.300px;-webkit-text-stroke:0.18px;">89.32</div>
<div class="t" style="left:894.17px;top:544.00px;font-size:10px;line-height:10px;color:#fff;letter-spacing:-0.300px;-webkit-text-stroke:0.18px;">56.32</div>
<div class="t" style="left:952.34px;top:544.00px;font-size:10px;line-height:10px;color:#fff;letter-spacing:-0.300px;-webkit-text-stroke:0.18px;">2422.00</div>
<div class="t" style="left:92.50px;top:565.00px;font-size:10px;line-height:10px;color:#1c1c1c;letter-spacing:-0.300px;-webkit-text-stroke:0.18px;">2</div>
<div class="t" style="left:130.00px;top:565.00px;font-size:10px;line-height:10px;color:#1c1c1c;letter-spacing:-0.300px;-webkit-text-stroke:0.18px;">Spiral</div>
<div class="t" style="left:188.75px;top:565.00px;font-size:10px;line-height:10px;color:#1c1c1c;letter-spacing:-0.300px;-webkit-text-stroke:0.18px;">10</div>
<div class="t" style="left:239.40px;top:565.00px;font-size:10px;line-height:10px;color:#1c1c1c;letter-spacing:-0.300px;-webkit-text-stroke:0.18px;">10</div>
<div class="t" style="left:292.50px;top:565.00px;font-size:10px;line-height:10px;color:#1c1c1c;letter-spacing:-0.300px;-webkit-text-stroke:0.18px;">1</div>
<div class="t" style="left:344.00px;top:565.00px;font-size:10px;line-height:10px;color:#1c1c1c;letter-spacing:-0.300px;-webkit-text-stroke:0.18px;">50</div>
<div class="t" style="left:404.00px;top:565.00px;font-size:10px;line-height:10px;color:#1c1c1c;letter-spacing:-0.300px;-webkit-text-stroke:0.18px;">500</div>
<div class="t" style="left:462.40px;top:565.00px;font-size:10px;line-height:10px;color:#1c1c1c;letter-spacing:-0.300px;-webkit-text-stroke:0.18px;">Height</div>
<div class="t" style="left:539.23px;top:565.00px;font-size:10px;line-height:10px;color:#1c1c1c;letter-spacing:-0.300px;-webkit-text-stroke:0.18px;">61.0</div>
<div class="t" style="left:581.73px;top:565.00px;font-size:10px;line-height:10px;color:#1c1c1c;letter-spacing:-0.300px;-webkit-text-stroke:0.18px;">92.1</div>
<div class="t" style="left:642.63px;top:565.00px;font-size:10px;line-height:10px;color:#1c1c1c;letter-spacing:-0.300px;-webkit-text-stroke:0.18px;">2.45</div>
<div class="t" style="left:698.93px;top:565.00px;font-size:10px;line-height:10px;color:#1c1c1c;letter-spacing:-0.300px;-webkit-text-stroke:0.18px;">1.60</div>
<div class="t" style="left:756.51px;top:565.00px;font-size:10px;line-height:10px;color:#1c1c1c;letter-spacing:-0.300px;-webkit-text-stroke:0.18px;">227.30</div>
<div class="t" style="left:826.77px;top:565.00px;font-size:10px;line-height:10px;color:#1c1c1c;letter-spacing:-0.300px;-webkit-text-stroke:0.18px;">89.32</div>
<div class="t" style="left:894.17px;top:565.00px;font-size:10px;line-height:10px;color:#1c1c1c;letter-spacing:-0.300px;-webkit-text-stroke:0.18px;">56.32</div>
<div class="t" style="left:952.34px;top:565.00px;font-size:10px;line-height:10px;color:#1c1c1c;letter-spacing:-0.300px;-webkit-text-stroke:0.18px;">2422.00</div>
<div class="t" style="left:92.50px;top:587.00px;font-size:10px;line-height:10px;color:#1c1c1c;letter-spacing:-0.300px;-webkit-text-stroke:0.18px;">3</div>
<div class="t" style="left:130.00px;top:587.00px;font-size:10px;line-height:10px;color:#1c1c1c;letter-spacing:-0.300px;-webkit-text-stroke:0.18px;">Diagonal</div>
<div class="t" style="left:188.75px;top:587.00px;font-size:10px;line-height:10px;color:#1c1c1c;letter-spacing:-0.300px;-webkit-text-stroke:0.18px;">10</div>
<div class="t" style="left:239.40px;top:587.00px;font-size:10px;line-height:10px;color:#1c1c1c;letter-spacing:-0.300px;-webkit-text-stroke:0.18px;">10</div>
<div class="t" style="left:292.50px;top:587.00px;font-size:10px;line-height:10px;color:#1c1c1c;letter-spacing:-0.300px;-webkit-text-stroke:0.18px;">1</div>
<div class="t" style="left:344.00px;top:587.00px;font-size:10px;line-height:10px;color:#1c1c1c;letter-spacing:-0.300px;-webkit-text-stroke:0.18px;">50</div>
<div class="t" style="left:404.00px;top:587.00px;font-size:10px;line-height:10px;color:#1c1c1c;letter-spacing:-0.300px;-webkit-text-stroke:0.18px;">500</div>
<div class="t" style="left:462.40px;top:587.00px;font-size:10px;line-height:10px;color:#1c1c1c;letter-spacing:-0.300px;-webkit-text-stroke:0.18px;">Height</div>
<div class="t" style="left:539.23px;top:587.00px;font-size:10px;line-height:10px;color:#1c1c1c;letter-spacing:-0.300px;-webkit-text-stroke:0.18px;">61.0</div>
<div class="t" style="left:581.73px;top:587.00px;font-size:10px;line-height:10px;color:#1c1c1c;letter-spacing:-0.300px;-webkit-text-stroke:0.18px;">92.1</div>
<div class="t" style="left:642.63px;top:587.00px;font-size:10px;line-height:10px;color:#1c1c1c;letter-spacing:-0.300px;-webkit-text-stroke:0.18px;">2.45</div>
<div class="t" style="left:698.93px;top:587.00px;font-size:10px;line-height:10px;color:#1c1c1c;letter-spacing:-0.300px;-webkit-text-stroke:0.18px;">1.60</div>
<div class="t" style="left:756.51px;top:587.00px;font-size:10px;line-height:10px;color:#1c1c1c;letter-spacing:-0.300px;-webkit-text-stroke:0.18px;">227.30</div>
<div class="t" style="left:826.77px;top:587.00px;font-size:10px;line-height:10px;color:#1c1c1c;letter-spacing:-0.300px;-webkit-text-stroke:0.18px;">89.32</div>
<div class="t" style="left:894.17px;top:587.00px;font-size:10px;line-height:10px;color:#1c1c1c;letter-spacing:-0.300px;-webkit-text-stroke:0.18px;">56.32</div>
<div class="t" style="left:952.34px;top:587.00px;font-size:10px;line-height:10px;color:#1c1c1c;letter-spacing:-0.300px;-webkit-text-stroke:0.18px;">2422.00</div>
<div class="t" style="left:92.50px;top:608.00px;font-size:10px;line-height:10px;color:#1c1c1c;letter-spacing:-0.300px;-webkit-text-stroke:0.18px;">4</div>
<div class="t" style="left:130.00px;top:608.00px;font-size:10px;line-height:10px;color:#1c1c1c;letter-spacing:-0.300px;-webkit-text-stroke:0.18px;">Interlock</div>
<div class="t" style="left:188.75px;top:608.00px;font-size:10px;line-height:10px;color:#1c1c1c;letter-spacing:-0.300px;-webkit-text-stroke:0.18px;">9</div>
<div class="t" style="left:239.40px;top:608.00px;font-size:10px;line-height:10px;color:#1c1c1c;letter-spacing:-0.300px;-webkit-text-stroke:0.18px;">9</div>
<div class="t" style="left:292.50px;top:608.00px;font-size:10px;line-height:10px;color:#1c1c1c;letter-spacing:-0.300px;-webkit-text-stroke:0.18px;">1</div>
<div class="t" style="left:344.00px;top:608.00px;font-size:10px;line-height:10px;color:#1c1c1c;letter-spacing:-0.300px;-webkit-text-stroke:0.18px;">50</div>
<div class="t" style="left:404.00px;top:608.00px;font-size:10px;line-height:10px;color:#1c1c1c;letter-spacing:-0.300px;-webkit-text-stroke:0.18px;">450</div>
<div class="t" style="left:462.40px;top:608.00px;font-size:10px;line-height:10px;color:#1c1c1c;letter-spacing:-0.300px;-webkit-text-stroke:0.18px;">Height</div>
<div class="t" style="left:539.23px;top:608.00px;font-size:10px;line-height:10px;color:#1c1c1c;letter-spacing:-0.300px;-webkit-text-stroke:0.18px;">54.9</div>
<div class="t" style="left:581.73px;top:608.00px;font-size:10px;line-height:10px;color:#1c1c1c;letter-spacing:-0.300px;-webkit-text-stroke:0.18px;">82.9</div>
<div class="t" style="left:637.37px;top:608.00px;font-size:10px;line-height:10px;color:#1c1c1c;letter-spacing:-0.300px;-webkit-text-stroke:0.18px;">14.45</div>
<div class="t" style="left:698.93px;top:608.00px;font-size:10px;line-height:10px;color:#1c1c1c;letter-spacing:-0.300px;-webkit-text-stroke:0.18px;">1.60</div>
<div class="t" style="left:756.51px;top:608.00px;font-size:10px;line-height:10px;color:#1c1c1c;letter-spacing:-0.300px;-webkit-text-stroke:0.18px;">203.30</div>
<div class="t" style="left:826.77px;top:608.00px;font-size:10px;line-height:10px;color:#1c1c1c;letter-spacing:-0.300px;-webkit-text-stroke:0.18px;">89.32</div>
<div class="t" style="left:894.17px;top:608.00px;font-size:10px;line-height:10px;color:#1c1c1c;letter-spacing:-0.300px;-webkit-text-stroke:0.18px;">56.32</div>
<div class="t" style="left:952.34px;top:608.00px;font-size:10px;line-height:10px;color:#1c1c1c;letter-spacing:-0.300px;-webkit-text-stroke:0.18px;">2179.80</div>
<div class="t" style="left:92.50px;top:629.00px;font-size:10px;line-height:10px;color:#1c1c1c;letter-spacing:-0.300px;-webkit-text-stroke:0.18px;">5</div>
<div class="t" style="left:130.00px;top:629.00px;font-size:10px;line-height:10px;color:#1c1c1c;letter-spacing:-0.300px;-webkit-text-stroke:0.18px;">Trilock</div>
<div class="t" style="left:188.75px;top:629.00px;font-size:10px;line-height:10px;color:#1c1c1c;letter-spacing:-0.300px;-webkit-text-stroke:0.18px;">9</div>
<div class="t" style="left:239.40px;top:629.00px;font-size:10px;line-height:10px;color:#1c1c1c;letter-spacing:-0.300px;-webkit-text-stroke:0.18px;">9</div>
<div class="t" style="left:292.50px;top:629.00px;font-size:10px;line-height:10px;color:#1c1c1c;letter-spacing:-0.300px;-webkit-text-stroke:0.18px;">1</div>
<div class="t" style="left:344.00px;top:629.00px;font-size:10px;line-height:10px;color:#1c1c1c;letter-spacing:-0.300px;-webkit-text-stroke:0.18px;">50</div>
<div class="t" style="left:404.00px;top:629.00px;font-size:10px;line-height:10px;color:#1c1c1c;letter-spacing:-0.300px;-webkit-text-stroke:0.18px;">450</div>
<div class="t" style="left:462.40px;top:629.00px;font-size:10px;line-height:10px;color:#1c1c1c;letter-spacing:-0.300px;-webkit-text-stroke:0.18px;">Height</div>
<div class="t" style="left:539.23px;top:629.00px;font-size:10px;line-height:10px;color:#1c1c1c;letter-spacing:-0.300px;-webkit-text-stroke:0.18px;">54.9</div>
<div class="t" style="left:581.73px;top:629.00px;font-size:10px;line-height:10px;color:#1c1c1c;letter-spacing:-0.300px;-webkit-text-stroke:0.18px;">82.9</div>
<div class="t" style="left:642.63px;top:629.00px;font-size:10px;line-height:10px;color:#1c1c1c;letter-spacing:-0.300px;-webkit-text-stroke:0.18px;">2.45</div>
<div class="t" style="left:698.93px;top:629.00px;font-size:10px;line-height:10px;color:#1c1c1c;letter-spacing:-0.300px;-webkit-text-stroke:0.18px;">1.60</div>
<div class="t" style="left:756.51px;top:629.00px;font-size:10px;line-height:10px;color:#1c1c1c;letter-spacing:-0.300px;-webkit-text-stroke:0.18px;">227.30</div>
<div class="t" style="left:826.77px;top:629.00px;font-size:10px;line-height:10px;color:#1c1c1c;letter-spacing:-0.300px;-webkit-text-stroke:0.18px;">89.32</div>
<div class="t" style="left:894.17px;top:629.00px;font-size:10px;line-height:10px;color:#1c1c1c;letter-spacing:-0.300px;-webkit-text-stroke:0.18px;">56.32</div>
<div class="t" style="left:952.34px;top:629.00px;font-size:10px;line-height:10px;color:#1c1c1c;letter-spacing:-0.300px;-webkit-text-stroke:0.18px;">2179.80</div>
<div class="t" style="left:92.50px;top:651.00px;font-size:10px;line-height:10px;color:#1c1c1c;letter-spacing:-0.300px;-webkit-text-stroke:0.18px;">6</div>
<div class="t" style="left:130.00px;top:651.00px;font-size:10px;line-height:10px;color:#1c1c1c;letter-spacing:-0.300px;-webkit-text-stroke:0.18px;">Trilock</div>
<div class="t" style="left:188.75px;top:651.00px;font-size:10px;line-height:10px;color:#1c1c1c;letter-spacing:-0.300px;-webkit-text-stroke:0.18px;">9</div>
<div class="t" style="left:239.40px;top:651.00px;font-size:10px;line-height:10px;color:#1c1c1c;letter-spacing:-0.300px;-webkit-text-stroke:0.18px;">9</div>
<div class="t" style="left:292.50px;top:651.00px;font-size:10px;line-height:10px;color:#1c1c1c;letter-spacing:-0.300px;-webkit-text-stroke:0.18px;">1</div>
<div class="t" style="left:344.00px;top:651.00px;font-size:10px;line-height:10px;color:#1c1c1c;letter-spacing:-0.300px;-webkit-text-stroke:0.18px;">50</div>
<div class="t" style="left:404.00px;top:651.00px;font-size:10px;line-height:10px;color:#1c1c1c;letter-spacing:-0.300px;-webkit-text-stroke:0.18px;">450</div>
<div class="t" style="left:462.40px;top:651.00px;font-size:10px;line-height:10px;color:#1c1c1c;letter-spacing:-0.300px;-webkit-text-stroke:0.18px;">Height</div>
<div class="t" style="left:539.23px;top:651.00px;font-size:10px;line-height:10px;color:#1c1c1c;letter-spacing:-0.300px;-webkit-text-stroke:0.18px;">54.9</div>
<div class="t" style="left:581.73px;top:651.00px;font-size:10px;line-height:10px;color:#1c1c1c;letter-spacing:-0.300px;-webkit-text-stroke:0.18px;">82.9</div>
<div class="t" style="left:642.63px;top:651.00px;font-size:10px;line-height:10px;color:#1c1c1c;letter-spacing:-0.300px;-webkit-text-stroke:0.18px;">6.45</div>
<div class="t" style="left:698.93px;top:651.00px;font-size:10px;line-height:10px;color:#1c1c1c;letter-spacing:-0.300px;-webkit-text-stroke:0.18px;">1.60</div>
<div class="t" style="left:756.51px;top:651.00px;font-size:10px;line-height:10px;color:#1c1c1c;letter-spacing:-0.300px;-webkit-text-stroke:0.18px;">219.30</div>
<div class="t" style="left:826.77px;top:651.00px;font-size:10px;line-height:10px;color:#1c1c1c;letter-spacing:-0.300px;-webkit-text-stroke:0.18px;">89.32</div>
<div class="t" style="left:894.17px;top:651.00px;font-size:10px;line-height:10px;color:#1c1c1c;letter-spacing:-0.300px;-webkit-text-stroke:0.18px;">56.32</div>
<div class="t" style="left:952.34px;top:651.00px;font-size:10px;line-height:10px;color:#1c1c1c;letter-spacing:-0.300px;-webkit-text-stroke:0.18px;">2179.80</div>
<div class="t" style="left:92.50px;top:672.00px;font-size:10px;line-height:10px;color:#1c1c1c;letter-spacing:-0.300px;-webkit-text-stroke:0.18px;">7</div>
<div class="t" style="left:130.00px;top:672.00px;font-size:10px;line-height:10px;color:#1c1c1c;letter-spacing:-0.300px;-webkit-text-stroke:0.18px;">Trilock</div>
<div class="t" style="left:188.75px;top:672.00px;font-size:10px;line-height:10px;color:#1c1c1c;letter-spacing:-0.300px;-webkit-text-stroke:0.18px;">9</div>
<div class="t" style="left:239.40px;top:672.00px;font-size:10px;line-height:10px;color:#1c1c1c;letter-spacing:-0.300px;-webkit-text-stroke:0.18px;">9</div>
<div class="t" style="left:292.50px;top:672.00px;font-size:10px;line-height:10px;color:#1c1c1c;letter-spacing:-0.300px;-webkit-text-stroke:0.18px;">1</div>
<div class="t" style="left:344.00px;top:672.00px;font-size:10px;line-height:10px;color:#1c1c1c;letter-spacing:-0.300px;-webkit-text-stroke:0.18px;">50</div>
<div class="t" style="left:404.00px;top:672.00px;font-size:10px;line-height:10px;color:#1c1c1c;letter-spacing:-0.300px;-webkit-text-stroke:0.18px;">450</div>
<div class="t" style="left:462.40px;top:672.00px;font-size:10px;line-height:10px;color:#1c1c1c;letter-spacing:-0.300px;-webkit-text-stroke:0.18px;">Height</div>
<div class="t" style="left:539.23px;top:672.00px;font-size:10px;line-height:10px;color:#1c1c1c;letter-spacing:-0.300px;-webkit-text-stroke:0.18px;">54.9</div>
<div class="t" style="left:581.73px;top:672.00px;font-size:10px;line-height:10px;color:#1c1c1c;letter-spacing:-0.300px;-webkit-text-stroke:0.18px;">82.9</div>
<div class="t" style="left:637.37px;top:672.00px;font-size:10px;line-height:10px;color:#1c1c1c;letter-spacing:-0.300px;-webkit-text-stroke:0.18px;">10.45</div>
<div class="t" style="left:698.93px;top:672.00px;font-size:10px;line-height:10px;color:#1c1c1c;letter-spacing:-0.300px;-webkit-text-stroke:0.18px;">1.60</div>
<div class="t" style="left:757.26px;top:672.00px;font-size:10px;line-height:10px;color:#1c1c1c;letter-spacing:-0.300px;-webkit-text-stroke:0.18px;">211.30</div>
<div class="t" style="left:826.77px;top:672.00px;font-size:10px;line-height:10px;color:#1c1c1c;letter-spacing:-0.300px;-webkit-text-stroke:0.18px;">89.32</div>
<div class="t" style="left:894.17px;top:672.00px;font-size:10px;line-height:10px;color:#1c1c1c;letter-spacing:-0.300px;-webkit-text-stroke:0.18px;">56.32</div>
<div class="t" style="left:952.34px;top:672.00px;font-size:10px;line-height:10px;color:#1c1c1c;letter-spacing:-0.300px;-webkit-text-stroke:0.18px;">2179.80</div>
<div class="t" style="left:92.50px;top:694.00px;font-size:10px;line-height:10px;color:#1c1c1c;letter-spacing:-0.300px;-webkit-text-stroke:0.18px;">8</div>
<div class="t" style="left:130.00px;top:694.00px;font-size:10px;line-height:10px;color:#1c1c1c;letter-spacing:-0.300px;-webkit-text-stroke:0.18px;">Spiral</div>
<div class="t" style="left:188.75px;top:694.00px;font-size:10px;line-height:10px;color:#1c1c1c;letter-spacing:-0.300px;-webkit-text-stroke:0.18px;">9</div>
<div class="t" style="left:239.40px;top:694.00px;font-size:10px;line-height:10px;color:#1c1c1c;letter-spacing:-0.300px;-webkit-text-stroke:0.18px;">9</div>
<div class="t" style="left:292.50px;top:694.00px;font-size:10px;line-height:10px;color:#1c1c1c;letter-spacing:-0.300px;-webkit-text-stroke:0.18px;">1</div>
<div class="t" style="left:344.00px;top:694.00px;font-size:10px;line-height:10px;color:#1c1c1c;letter-spacing:-0.300px;-webkit-text-stroke:0.18px;">50</div>
<div class="t" style="left:404.00px;top:694.00px;font-size:10px;line-height:10px;color:#1c1c1c;letter-spacing:-0.300px;-webkit-text-stroke:0.18px;">450</div>
<div class="t" style="left:462.40px;top:694.00px;font-size:10px;line-height:10px;color:#1c1c1c;letter-spacing:-0.300px;-webkit-text-stroke:0.18px;">Height</div>
<div class="t" style="left:539.23px;top:694.00px;font-size:10px;line-height:10px;color:#1c1c1c;letter-spacing:-0.300px;-webkit-text-stroke:0.18px;">54.9</div>
<div class="t" style="left:581.73px;top:694.00px;font-size:10px;line-height:10px;color:#1c1c1c;letter-spacing:-0.300px;-webkit-text-stroke:0.18px;">82.9</div>
<div class="t" style="left:637.37px;top:694.00px;font-size:10px;line-height:10px;color:#1c1c1c;letter-spacing:-0.300px;-webkit-text-stroke:0.18px;">10.45</div>
<div class="t" style="left:698.93px;top:694.00px;font-size:10px;line-height:10px;color:#1c1c1c;letter-spacing:-0.300px;-webkit-text-stroke:0.18px;">1.60</div>
<div class="t" style="left:757.26px;top:694.00px;font-size:10px;line-height:10px;color:#1c1c1c;letter-spacing:-0.300px;-webkit-text-stroke:0.18px;">211.30</div>
<div class="t" style="left:826.77px;top:694.00px;font-size:10px;line-height:10px;color:#1c1c1c;letter-spacing:-0.300px;-webkit-text-stroke:0.18px;">89.32</div>
<div class="t" style="left:894.17px;top:694.00px;font-size:10px;line-height:10px;color:#1c1c1c;letter-spacing:-0.300px;-webkit-text-stroke:0.18px;">56.32</div>
<div class="t" style="left:952.34px;top:694.00px;font-size:10px;line-height:10px;color:#1c1c1c;letter-spacing:-0.300px;-webkit-text-stroke:0.18px;">2179.80</div>
<div class="t" style="left:92.50px;top:715.00px;font-size:10px;line-height:10px;color:#1c1c1c;letter-spacing:-0.300px;-webkit-text-stroke:0.18px;">9</div>
<div class="t" style="left:130.00px;top:715.00px;font-size:10px;line-height:10px;color:#1c1c1c;letter-spacing:-0.300px;-webkit-text-stroke:0.18px;">Spiral</div>
<div class="t" style="left:188.75px;top:715.00px;font-size:10px;line-height:10px;color:#1c1c1c;letter-spacing:-0.300px;-webkit-text-stroke:0.18px;">9</div>
<div class="t" style="left:239.40px;top:715.00px;font-size:10px;line-height:10px;color:#1c1c1c;letter-spacing:-0.300px;-webkit-text-stroke:0.18px;">9</div>
<div class="t" style="left:292.50px;top:715.00px;font-size:10px;line-height:10px;color:#1c1c1c;letter-spacing:-0.300px;-webkit-text-stroke:0.18px;">1</div>
<div class="t" style="left:344.00px;top:715.00px;font-size:10px;line-height:10px;color:#1c1c1c;letter-spacing:-0.300px;-webkit-text-stroke:0.18px;">50</div>
<div class="t" style="left:404.00px;top:715.00px;font-size:10px;line-height:10px;color:#1c1c1c;letter-spacing:-0.300px;-webkit-text-stroke:0.18px;">450</div>
<div class="t" style="left:462.40px;top:715.00px;font-size:10px;line-height:10px;color:#1c1c1c;letter-spacing:-0.300px;-webkit-text-stroke:0.18px;">Height</div>
<div class="t" style="left:539.23px;top:715.00px;font-size:10px;line-height:10px;color:#1c1c1c;letter-spacing:-0.300px;-webkit-text-stroke:0.18px;">54.9</div>
<div class="t" style="left:581.73px;top:715.00px;font-size:10px;line-height:10px;color:#1c1c1c;letter-spacing:-0.300px;-webkit-text-stroke:0.18px;">82.9</div>
<div class="t" style="left:642.63px;top:715.00px;font-size:10px;line-height:10px;color:#1c1c1c;letter-spacing:-0.300px;-webkit-text-stroke:0.18px;">6.45</div>
<div class="t" style="left:698.93px;top:715.00px;font-size:10px;line-height:10px;color:#1c1c1c;letter-spacing:-0.300px;-webkit-text-stroke:0.18px;">1.60</div>
<div class="t" style="left:756.51px;top:715.00px;font-size:10px;line-height:10px;color:#1c1c1c;letter-spacing:-0.300px;-webkit-text-stroke:0.18px;">219.30</div>
<div class="t" style="left:826.77px;top:715.00px;font-size:10px;line-height:10px;color:#1c1c1c;letter-spacing:-0.300px;-webkit-text-stroke:0.18px;">89.32</div>
<div class="t" style="left:894.17px;top:715.00px;font-size:10px;line-height:10px;color:#1c1c1c;letter-spacing:-0.300px;-webkit-text-stroke:0.18px;">56.32</div>
<div class="t" style="left:952.34px;top:715.00px;font-size:10px;line-height:10px;color:#1c1c1c;letter-spacing:-0.300px;-webkit-text-stroke:0.18px;">2179.80</div>
<div class="t" style="left:18.60px;top:14.00px;font-size:10px;line-height:10px;color:#e4f8e6;letter-spacing:-1.053px;-webkit-text-stroke:0.18px;">RD</div>
<div class="t" style="left:17.90px;top:71.00px;font-size:7.5px;line-height:7.5px;color:#fff;font-weight:bold;letter-spacing:-0.311px;">New</div>
<div class="t" style="left:15.20px;top:117.00px;font-size:7.5px;line-height:7.5px;color:#fff;font-weight:bold;letter-spacing:-0.368px;">Rerun</div>
<div class="t" style="left:6.30px;top:166.00px;font-size:7.5px;line-height:7.5px;color:#fff;font-weight:bold;letter-spacing:-0.161px;">Single Size</div>
<div class="t" style="left:6.35px;top:213.00px;font-size:7.5px;line-height:7.5px;color:#6c7079;font-weight:bold;letter-spacing:-0.073px;">Mixed Size</div>
<div class="t" style="left:6.65px;top:260.00px;font-size:7.5px;line-height:7.5px;color:#fff;font-weight:bold;letter-spacing:-0.029px;">Databases</div>
<div class="t" style="left:4.20px;top:306.00px;font-size:7.5px;line-height:7.5px;color:#fff;font-weight:bold;letter-spacing:-0.010px;">My Network</div>
<div class="t" style="left:11.05px;top:558.00px;font-size:7.5px;line-height:7.5px;color:#fff;font-weight:bold;letter-spacing:-0.156px;">Settings</div>
<div class="t" style="left:3.90px;top:608.00px;font-size:7.5px;line-height:7.5px;color:#fff;font-weight:bold;letter-spacing:-0.167px;">Trial Expires</div>
<div class="t" style="left:7.20px;top:619.00px;font-size:7.5px;line-height:7.5px;color:#fff;font-weight:bold;letter-spacing:-0.033px;">On 31 Mar</div>
<div class="t" style="left:16.70px;top:630.00px;font-size:7.5px;line-height:7.5px;color:#fff;font-weight:bold;letter-spacing:0.104px;">2022</div>
<div class="t" style="left:17.55px;top:673.00px;font-size:7.5px;line-height:7.5px;color:#fff;font-weight:bold;letter-spacing:-0.255px;">Help</div>
</div>
</body></html>
